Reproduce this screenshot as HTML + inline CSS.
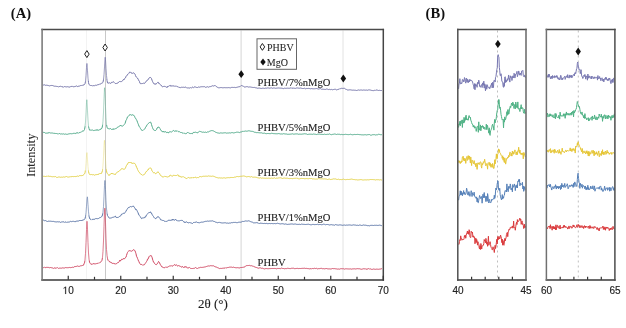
<!DOCTYPE html><html><head><meta charset="utf-8"><style>html,body{margin:0;padding:0;background:#fff;}svg{display:block;filter:blur(0.4px);}</style></head><body>
<svg width="626" height="328" viewBox="0 0 626 328">
<rect width="626" height="328" fill="#fff"/>
<g stroke-width="1" fill="none">
<line x1="86.5" y1="30.5" x2="86.5" y2="279" stroke="#f3f3f3"/>
<line x1="105.5" y1="30.5" x2="105.5" y2="279" stroke="#c8c8c8"/>
<line x1="241.1" y1="30.5" x2="241.1" y2="279" stroke="#d6d6d6"/>
<line x1="343" y1="30.5" x2="343" y2="279" stroke="#e2e2e2"/>
<line x1="497.5" y1="30.5" x2="497.5" y2="279" stroke="#b4b4b4" stroke-width="0.85" stroke-dasharray="2 3"/>
<line x1="578.3" y1="30.5" x2="578.3" y2="279" stroke="#b4b4b4" stroke-width="0.85" stroke-dasharray="2 3"/>
</g>
<defs>
<mask id="m_purple" maskUnits="userSpaceOnUse" x="0" y="0" width="626" height="328"><rect width="626" height="328" fill="#fff"/><g fill="#000"><rect x="84.40" y="0" width="5" height="80.69"/><rect x="102.70" y="0" width="5" height="78.94"/></g></mask>
<clipPath id="c_purple"><rect x="84.40" y="0" width="5" height="80.69"/><rect x="102.70" y="0" width="5" height="78.94"/></clipPath>
<mask id="m_green" maskUnits="userSpaceOnUse" x="0" y="0" width="626" height="328"><rect width="626" height="328" fill="#fff"/><g fill="#000"><rect x="84.30" y="0" width="5" height="126.17"/><rect x="102.10" y="0" width="5" height="124.70"/></g></mask>
<clipPath id="c_green"><rect x="84.30" y="0" width="5" height="126.17"/><rect x="102.10" y="0" width="5" height="124.70"/></clipPath>
<mask id="m_yellow" maskUnits="userSpaceOnUse" x="0" y="0" width="626" height="328"><rect width="626" height="328" fill="#fff"/><g fill="#000"><rect x="84.40" y="0" width="5" height="170.47"/><rect x="101.90" y="0" width="5" height="169.31"/></g></mask>
<clipPath id="c_yellow"><rect x="84.40" y="0" width="5" height="170.47"/><rect x="101.90" y="0" width="5" height="169.31"/></clipPath>
<mask id="m_blue" maskUnits="userSpaceOnUse" x="0" y="0" width="626" height="328"><rect width="626" height="328" fill="#fff"/><g fill="#000"><rect x="84.80" y="0" width="5" height="215.30"/><rect x="102.40" y="0" width="5" height="213.31"/></g></mask>
<clipPath id="c_blue"><rect x="84.80" y="0" width="5" height="215.30"/><rect x="102.40" y="0" width="5" height="213.31"/></clipPath>
<mask id="m_red" maskUnits="userSpaceOnUse" x="0" y="0" width="626" height="328"><rect width="626" height="328" fill="#fff"/><g fill="#000"><rect x="84.50" y="0" width="5" height="260.53"/><rect x="102.30" y="0" width="5" height="257.91"/></g></mask>
<clipPath id="c_red"><rect x="84.50" y="0" width="5" height="260.53"/><rect x="102.30" y="0" width="5" height="257.91"/></clipPath>
</defs>
<g fill="none" stroke-width="1.0" stroke-linejoin="round">
<path d="M43.00 85.25L43.50 85.01L44.00 84.98L44.50 84.80L45.00 85.26L45.50 85.30L46.00 85.25L46.50 85.21L47.00 85.40L47.50 85.33L48.00 85.07L48.50 85.65L49.00 85.78L49.50 85.90L50.00 85.56L50.50 85.58L51.00 85.73L51.50 85.41L52.00 85.99L52.50 85.52L53.00 85.59L53.50 85.88L54.00 86.32L54.50 86.21L55.00 86.09L55.50 86.22L56.00 86.50L56.50 86.39L57.00 86.32L57.50 86.51L58.00 86.72L58.50 87.04L59.00 86.37L59.50 86.52L60.00 86.51L60.50 86.27L61.00 86.53L61.50 86.58L62.00 87.15L62.50 86.80L63.00 86.59L63.50 87.23L64.00 86.99L64.50 86.49L65.00 86.92L65.50 86.75L66.00 86.63L66.50 86.88L67.00 86.42L67.50 86.71L68.00 86.96L68.50 86.93L69.00 86.97L69.50 87.04L70.00 87.18L70.50 86.63L71.00 87.05L71.50 86.33L72.00 86.68L72.50 86.33L73.00 86.84L73.50 86.78L74.00 86.55L74.50 86.71L75.00 86.09L75.50 86.38L76.00 86.31L76.50 85.94L77.00 86.39L77.50 86.61L78.00 85.92L78.50 86.27L79.00 85.81L79.50 86.05L80.00 85.75L80.50 85.59L81.00 85.63L81.50 85.44L82.00 84.93L82.50 85.39L83.00 84.79L83.50 85.04L84.00 85.10L84.50 84.40L85.00 83.74L85.50 81.32L86.00 75.39L86.50 67.32L86.90 63.45L87.00 64.18L87.50 70.76L88.00 78.17L88.50 82.45L89.00 84.54L89.50 84.93L90.00 85.22L90.50 85.48L91.00 85.18L91.50 85.50L92.00 86.10L92.50 85.88L93.00 85.39L93.50 85.65L94.00 85.57L94.50 85.68L95.00 85.38L95.50 85.22L96.00 85.06L96.50 85.31L97.00 85.17L97.50 84.81L98.00 84.74L98.50 84.62L99.00 84.65L99.50 84.05L100.00 84.06L100.50 84.02L101.00 83.70L101.50 83.18L102.00 83.52L102.50 82.70L103.00 82.09L103.50 79.71L104.00 74.72L104.50 66.95L105.00 58.65L105.20 57.26L105.50 59.77L106.00 68.38L106.50 75.52L107.00 80.43L107.50 82.92L108.00 82.99L108.50 83.01L109.00 83.45L109.50 82.76L110.00 82.81L110.50 83.41L111.00 83.28L111.50 82.33L112.00 82.11L112.50 82.29L113.00 81.83L113.50 81.74L114.00 82.20L114.50 82.90L115.00 83.41L115.50 83.54L116.00 83.85L116.50 83.44L117.00 83.44L117.50 83.30L118.00 82.36L118.50 82.39L119.00 82.07L119.50 81.48L120.00 81.32L120.50 81.62L121.00 81.54L121.50 81.57L122.00 81.29L122.50 80.91L123.00 80.13L123.50 79.33L124.00 79.87L124.50 78.62L125.00 78.13L125.50 77.90L126.00 76.40L126.50 75.81L127.00 75.68L127.50 74.42L128.00 74.23L128.50 73.73L129.00 73.37L129.50 72.13L130.00 72.15L130.50 72.33L131.00 72.80L131.50 72.68L132.00 73.75L132.50 73.29L133.00 72.76L133.50 72.93L134.00 73.08L134.50 73.50L135.00 74.11L135.50 75.63L136.00 76.85L136.50 77.12L137.00 77.54L137.50 78.00L138.00 79.08L138.50 79.82L139.00 80.94L139.50 81.61L140.00 83.35L140.50 83.60L141.00 83.73L141.50 83.60L142.00 83.54L142.50 83.53L143.00 83.30L143.50 83.19L144.00 83.45L144.50 83.45L145.00 82.77L145.50 82.05L146.00 81.87L146.50 80.83L147.00 80.21L147.50 80.27L148.00 79.30L148.50 79.18L149.00 78.17L149.50 77.56L150.00 77.78L150.50 77.46L151.00 77.75L151.50 78.58L152.00 80.15L152.50 81.36L153.00 82.38L153.50 83.32L154.00 83.45L154.50 84.30L155.00 83.52L155.50 84.22L156.00 84.34L156.50 83.47L157.00 83.23L157.50 82.61L158.00 81.94L158.50 82.44L159.00 83.87L159.50 83.66L160.00 84.38L160.50 84.78L161.00 85.48L161.50 85.54L162.00 86.28L162.50 86.97L163.00 86.91L163.50 86.44L164.00 86.63L164.50 86.35L165.00 86.17L165.50 86.71L166.00 87.20L166.50 87.03L167.00 87.63L167.50 86.25L168.00 86.76L168.50 86.15L169.00 85.90L169.50 85.65L170.00 85.76L170.50 85.42L171.00 86.44L171.50 85.73L172.00 85.83L172.50 85.93L173.00 85.66L173.50 85.95L174.00 85.84L174.50 86.37L175.00 85.75L175.50 86.29L176.00 86.38L176.50 86.05L177.00 86.60L177.50 86.66L178.00 86.96L178.50 86.96L179.00 87.55L179.50 87.43L180.00 87.69L180.50 87.63L181.00 87.49L181.50 87.24L182.00 87.54L182.50 87.30L183.00 87.32L183.50 87.22L184.00 87.48L184.50 87.40L185.00 86.96L185.50 87.06L186.00 87.29L186.50 87.83L187.00 88.31L187.50 87.95L188.00 88.10L188.50 87.90L189.00 87.89L189.50 88.04L190.00 88.10L190.50 87.57L191.00 88.28L191.50 87.96L192.00 87.44L192.50 87.07L193.00 87.48L193.50 87.79L194.00 87.19L194.50 86.86L195.00 87.22L195.50 87.02L196.00 87.07L196.50 87.41L197.00 87.05L197.50 87.55L198.00 87.09L198.50 86.98L199.00 87.11L199.50 87.20L200.00 87.08L200.50 86.86L201.00 87.12L201.50 86.74L202.00 87.03L202.50 86.72L203.00 86.66L203.50 86.73L204.00 86.65L204.50 86.65L205.00 87.00L205.50 87.31L206.00 87.06L206.50 87.09L207.00 87.00L207.50 86.72L208.00 86.99L208.50 87.19L209.00 86.92L209.50 86.70L210.00 86.88L210.50 86.58L211.00 86.65L211.50 86.26L212.00 86.22L212.50 85.74L213.00 86.10L213.50 86.02L214.00 85.95L214.50 85.62L215.00 85.96L215.50 85.71L216.00 86.33L216.50 86.63L217.00 86.89L217.50 87.33L218.00 87.40L218.50 87.76L219.00 87.84L219.50 87.78L220.00 87.51L220.50 87.60L221.00 87.66L221.50 87.58L222.00 87.72L222.50 87.78L223.00 87.66L223.50 87.74L224.00 87.85L224.50 87.63L225.00 87.90L225.50 87.73L226.00 87.90L226.50 87.71L227.00 87.89L227.50 87.72L228.00 87.98L228.50 87.62L229.00 87.86L229.50 87.73L230.00 87.88L230.50 87.85L231.00 87.65L231.50 87.41L232.00 87.42L232.50 87.39L233.00 87.27L233.50 87.44L234.00 87.37L234.50 87.37L235.00 87.62L235.50 87.60L236.00 87.44L236.50 87.38L237.00 87.30L237.50 87.13L238.00 86.87L238.50 86.85L239.00 86.80L239.50 86.69L240.00 86.59L240.50 86.03L241.00 85.83L241.50 85.51L242.00 85.75L242.50 85.92L243.00 86.31L243.50 86.24L244.00 86.79L244.50 87.04L245.00 87.25L245.50 86.95L246.00 86.84L246.50 86.68L247.00 86.83L247.50 86.71L248.00 86.90L248.50 87.09L249.00 86.97L249.50 86.95L250.00 86.83L250.50 87.02L251.00 86.97L251.50 87.22L252.00 87.39L252.50 87.40L253.00 87.30L253.50 87.47L254.00 87.50L254.50 87.41L255.00 87.61L255.50 87.77L256.00 87.99L256.50 87.92L257.00 88.29L257.50 88.25L258.00 88.03L258.50 88.14L259.00 88.11L259.50 88.12L260.00 87.94L260.50 88.33L261.00 88.49L261.50 88.43L262.00 88.46L262.50 88.21L263.00 88.33L263.50 88.22L264.00 88.07L264.50 88.39L265.00 88.22L265.50 88.14L266.00 88.14L266.50 88.19L267.00 87.99L267.50 87.94L268.00 88.17L268.50 87.98L269.00 87.97L269.50 88.19L270.00 88.02L270.50 88.01L271.00 88.06L271.50 87.87L272.00 87.98L272.50 88.27L273.00 87.98L273.50 88.01L274.00 87.93L274.50 88.02L275.00 88.33L275.50 88.27L276.00 88.15L276.50 88.16L277.00 88.18L277.50 88.05L278.00 87.96L278.50 87.98L279.00 88.08L279.50 88.05L280.00 88.11L280.50 88.14L281.00 87.94L281.50 88.18L282.00 88.06L282.50 88.33L283.00 88.45L283.50 88.61L284.00 88.38L284.50 88.16L285.00 88.40L285.50 88.32L286.00 87.92L286.50 88.27L287.00 88.37L287.50 88.16L288.00 88.53L288.50 88.24L289.00 87.99L289.50 88.24L290.00 88.17L290.50 87.98L291.00 88.18L291.50 87.92L292.00 88.51L292.50 88.12L293.00 88.23L293.50 88.13L294.00 88.29L294.50 88.26L295.00 88.08L295.50 88.37L296.00 88.15L296.50 88.02L297.00 88.10L297.50 87.98L298.00 87.82L298.50 88.13L299.00 88.07L299.50 88.21L300.00 88.10L300.50 88.03L301.00 88.04L301.50 88.27L302.00 88.47L302.50 88.50L303.00 88.37L303.50 88.51L304.00 88.19L304.50 88.23L305.00 88.45L305.50 88.77L306.00 88.61L306.50 88.44L307.00 88.54L307.50 88.50L308.00 88.49L308.50 88.40L309.00 88.30L309.50 88.54L310.00 88.58L310.50 88.81L311.00 88.88L311.50 88.59L312.00 88.63L312.50 88.74L313.00 88.76L313.50 88.80L314.00 88.84L314.50 88.79L315.00 88.87L315.50 88.67L316.00 88.63L316.50 88.54L317.00 88.75L317.50 88.79L318.00 88.75L318.50 89.07L319.00 88.97L319.50 88.81L320.00 88.72L320.50 88.61L321.00 88.73L321.50 89.32L322.00 88.91L322.50 89.21L323.00 89.29L323.50 89.29L324.00 89.15L324.50 89.36L325.00 89.21L325.50 89.42L326.00 89.35L326.50 89.04L327.00 89.05L327.50 89.17L328.00 89.38L328.50 89.56L329.00 89.58L329.50 89.34L330.00 89.36L330.50 89.63L331.00 89.56L331.50 89.41L332.00 89.69L332.50 89.78L333.00 89.87L333.50 89.53L334.00 89.67L334.50 89.31L335.00 89.35L335.50 89.29L336.00 89.72L336.50 89.89L337.00 89.65L337.50 89.58L338.00 89.68L338.50 89.29L339.00 89.37L339.50 88.81L340.00 88.98L340.50 88.66L341.00 88.41L341.50 88.31L342.00 88.65L342.50 88.42L343.00 88.28L343.50 88.33L344.00 87.97L344.50 88.32L345.00 88.63L345.50 89.10L346.00 89.20L346.50 89.40L347.00 89.90L347.50 89.99L348.00 89.81L348.50 89.99L349.00 90.01L349.50 89.84L350.00 89.70L350.50 89.85L351.00 89.86L351.50 90.04L352.00 90.15L352.50 90.18L353.00 90.14L353.50 90.14L354.00 90.30L354.50 90.21L355.00 90.05L355.50 90.24L356.00 90.22L356.50 90.48L357.00 90.21L357.50 90.26L358.00 90.00L358.50 89.96L359.00 89.82L359.50 90.18L360.00 90.14L360.50 90.03L361.00 89.97L361.50 90.01L362.00 90.14L362.50 90.21L363.00 89.96L363.50 90.02L364.00 90.08L364.50 90.08L365.00 89.99L365.50 90.17L366.00 90.22L366.50 90.06L367.00 90.28L367.50 90.28L368.00 90.16L368.50 89.92L369.00 90.20L369.50 89.92L370.00 89.81L370.50 90.10L371.00 90.02L371.50 90.38L372.00 90.16L372.50 90.56L373.00 90.44L373.50 90.64L374.00 90.42L374.50 90.31L375.00 90.16L375.50 90.33L376.00 89.79L376.50 90.08L377.00 90.17L377.50 90.19L378.00 90.06L378.50 90.48L379.00 90.11L379.50 90.30L380.00 90.19L380.50 90.50L381.00 90.12L381.50 90.50L382.00 90.10" stroke="#7373a8" mask="url(#m_purple)"/>
<path d="M43.00 85.25L43.50 85.01L44.00 84.98L44.50 84.80L45.00 85.26L45.50 85.30L46.00 85.25L46.50 85.21L47.00 85.40L47.50 85.33L48.00 85.07L48.50 85.65L49.00 85.78L49.50 85.90L50.00 85.56L50.50 85.58L51.00 85.73L51.50 85.41L52.00 85.99L52.50 85.52L53.00 85.59L53.50 85.88L54.00 86.32L54.50 86.21L55.00 86.09L55.50 86.22L56.00 86.50L56.50 86.39L57.00 86.32L57.50 86.51L58.00 86.72L58.50 87.04L59.00 86.37L59.50 86.52L60.00 86.51L60.50 86.27L61.00 86.53L61.50 86.58L62.00 87.15L62.50 86.80L63.00 86.59L63.50 87.23L64.00 86.99L64.50 86.49L65.00 86.92L65.50 86.75L66.00 86.63L66.50 86.88L67.00 86.42L67.50 86.71L68.00 86.96L68.50 86.93L69.00 86.97L69.50 87.04L70.00 87.18L70.50 86.63L71.00 87.05L71.50 86.33L72.00 86.68L72.50 86.33L73.00 86.84L73.50 86.78L74.00 86.55L74.50 86.71L75.00 86.09L75.50 86.38L76.00 86.31L76.50 85.94L77.00 86.39L77.50 86.61L78.00 85.92L78.50 86.27L79.00 85.81L79.50 86.05L80.00 85.75L80.50 85.59L81.00 85.63L81.50 85.44L82.00 84.93L82.50 85.39L83.00 84.79L83.50 85.04L84.00 85.10L84.50 84.40L85.00 83.74L85.50 81.32L86.00 75.39L86.50 67.32L86.90 63.45L87.00 64.18L87.50 70.76L88.00 78.17L88.50 82.45L89.00 84.54L89.50 84.93L90.00 85.22L90.50 85.48L91.00 85.18L91.50 85.50L92.00 86.10L92.50 85.88L93.00 85.39L93.50 85.65L94.00 85.57L94.50 85.68L95.00 85.38L95.50 85.22L96.00 85.06L96.50 85.31L97.00 85.17L97.50 84.81L98.00 84.74L98.50 84.62L99.00 84.65L99.50 84.05L100.00 84.06L100.50 84.02L101.00 83.70L101.50 83.18L102.00 83.52L102.50 82.70L103.00 82.09L103.50 79.71L104.00 74.72L104.50 66.95L105.00 58.65L105.20 57.26L105.50 59.77L106.00 68.38L106.50 75.52L107.00 80.43L107.50 82.92L108.00 82.99L108.50 83.01L109.00 83.45L109.50 82.76L110.00 82.81L110.50 83.41L111.00 83.28L111.50 82.33L112.00 82.11L112.50 82.29L113.00 81.83L113.50 81.74L114.00 82.20L114.50 82.90L115.00 83.41L115.50 83.54L116.00 83.85L116.50 83.44L117.00 83.44L117.50 83.30L118.00 82.36L118.50 82.39L119.00 82.07L119.50 81.48L120.00 81.32L120.50 81.62L121.00 81.54L121.50 81.57L122.00 81.29L122.50 80.91L123.00 80.13L123.50 79.33L124.00 79.87L124.50 78.62L125.00 78.13L125.50 77.90L126.00 76.40L126.50 75.81L127.00 75.68L127.50 74.42L128.00 74.23L128.50 73.73L129.00 73.37L129.50 72.13L130.00 72.15L130.50 72.33L131.00 72.80L131.50 72.68L132.00 73.75L132.50 73.29L133.00 72.76L133.50 72.93L134.00 73.08L134.50 73.50L135.00 74.11L135.50 75.63L136.00 76.85L136.50 77.12L137.00 77.54L137.50 78.00L138.00 79.08L138.50 79.82L139.00 80.94L139.50 81.61L140.00 83.35L140.50 83.60L141.00 83.73L141.50 83.60L142.00 83.54L142.50 83.53L143.00 83.30L143.50 83.19L144.00 83.45L144.50 83.45L145.00 82.77L145.50 82.05L146.00 81.87L146.50 80.83L147.00 80.21L147.50 80.27L148.00 79.30L148.50 79.18L149.00 78.17L149.50 77.56L150.00 77.78L150.50 77.46L151.00 77.75L151.50 78.58L152.00 80.15L152.50 81.36L153.00 82.38L153.50 83.32L154.00 83.45L154.50 84.30L155.00 83.52L155.50 84.22L156.00 84.34L156.50 83.47L157.00 83.23L157.50 82.61L158.00 81.94L158.50 82.44L159.00 83.87L159.50 83.66L160.00 84.38L160.50 84.78L161.00 85.48L161.50 85.54L162.00 86.28L162.50 86.97L163.00 86.91L163.50 86.44L164.00 86.63L164.50 86.35L165.00 86.17L165.50 86.71L166.00 87.20L166.50 87.03L167.00 87.63L167.50 86.25L168.00 86.76L168.50 86.15L169.00 85.90L169.50 85.65L170.00 85.76L170.50 85.42L171.00 86.44L171.50 85.73L172.00 85.83L172.50 85.93L173.00 85.66L173.50 85.95L174.00 85.84L174.50 86.37L175.00 85.75L175.50 86.29L176.00 86.38L176.50 86.05L177.00 86.60L177.50 86.66L178.00 86.96L178.50 86.96L179.00 87.55L179.50 87.43L180.00 87.69L180.50 87.63L181.00 87.49L181.50 87.24L182.00 87.54L182.50 87.30L183.00 87.32L183.50 87.22L184.00 87.48L184.50 87.40L185.00 86.96L185.50 87.06L186.00 87.29L186.50 87.83L187.00 88.31L187.50 87.95L188.00 88.10L188.50 87.90L189.00 87.89L189.50 88.04L190.00 88.10L190.50 87.57L191.00 88.28L191.50 87.96L192.00 87.44L192.50 87.07L193.00 87.48L193.50 87.79L194.00 87.19L194.50 86.86L195.00 87.22L195.50 87.02L196.00 87.07L196.50 87.41L197.00 87.05L197.50 87.55L198.00 87.09L198.50 86.98L199.00 87.11L199.50 87.20L200.00 87.08L200.50 86.86L201.00 87.12L201.50 86.74L202.00 87.03L202.50 86.72L203.00 86.66L203.50 86.73L204.00 86.65L204.50 86.65L205.00 87.00L205.50 87.31L206.00 87.06L206.50 87.09L207.00 87.00L207.50 86.72L208.00 86.99L208.50 87.19L209.00 86.92L209.50 86.70L210.00 86.88L210.50 86.58L211.00 86.65L211.50 86.26L212.00 86.22L212.50 85.74L213.00 86.10L213.50 86.02L214.00 85.95L214.50 85.62L215.00 85.96L215.50 85.71L216.00 86.33L216.50 86.63L217.00 86.89L217.50 87.33L218.00 87.40L218.50 87.76L219.00 87.84L219.50 87.78L220.00 87.51L220.50 87.60L221.00 87.66L221.50 87.58L222.00 87.72L222.50 87.78L223.00 87.66L223.50 87.74L224.00 87.85L224.50 87.63L225.00 87.90L225.50 87.73L226.00 87.90L226.50 87.71L227.00 87.89L227.50 87.72L228.00 87.98L228.50 87.62L229.00 87.86L229.50 87.73L230.00 87.88L230.50 87.85L231.00 87.65L231.50 87.41L232.00 87.42L232.50 87.39L233.00 87.27L233.50 87.44L234.00 87.37L234.50 87.37L235.00 87.62L235.50 87.60L236.00 87.44L236.50 87.38L237.00 87.30L237.50 87.13L238.00 86.87L238.50 86.85L239.00 86.80L239.50 86.69L240.00 86.59L240.50 86.03L241.00 85.83L241.50 85.51L242.00 85.75L242.50 85.92L243.00 86.31L243.50 86.24L244.00 86.79L244.50 87.04L245.00 87.25L245.50 86.95L246.00 86.84L246.50 86.68L247.00 86.83L247.50 86.71L248.00 86.90L248.50 87.09L249.00 86.97L249.50 86.95L250.00 86.83L250.50 87.02L251.00 86.97L251.50 87.22L252.00 87.39L252.50 87.40L253.00 87.30L253.50 87.47L254.00 87.50L254.50 87.41L255.00 87.61L255.50 87.77L256.00 87.99L256.50 87.92L257.00 88.29L257.50 88.25L258.00 88.03L258.50 88.14L259.00 88.11L259.50 88.12L260.00 87.94L260.50 88.33L261.00 88.49L261.50 88.43L262.00 88.46L262.50 88.21L263.00 88.33L263.50 88.22L264.00 88.07L264.50 88.39L265.00 88.22L265.50 88.14L266.00 88.14L266.50 88.19L267.00 87.99L267.50 87.94L268.00 88.17L268.50 87.98L269.00 87.97L269.50 88.19L270.00 88.02L270.50 88.01L271.00 88.06L271.50 87.87L272.00 87.98L272.50 88.27L273.00 87.98L273.50 88.01L274.00 87.93L274.50 88.02L275.00 88.33L275.50 88.27L276.00 88.15L276.50 88.16L277.00 88.18L277.50 88.05L278.00 87.96L278.50 87.98L279.00 88.08L279.50 88.05L280.00 88.11L280.50 88.14L281.00 87.94L281.50 88.18L282.00 88.06L282.50 88.33L283.00 88.45L283.50 88.61L284.00 88.38L284.50 88.16L285.00 88.40L285.50 88.32L286.00 87.92L286.50 88.27L287.00 88.37L287.50 88.16L288.00 88.53L288.50 88.24L289.00 87.99L289.50 88.24L290.00 88.17L290.50 87.98L291.00 88.18L291.50 87.92L292.00 88.51L292.50 88.12L293.00 88.23L293.50 88.13L294.00 88.29L294.50 88.26L295.00 88.08L295.50 88.37L296.00 88.15L296.50 88.02L297.00 88.10L297.50 87.98L298.00 87.82L298.50 88.13L299.00 88.07L299.50 88.21L300.00 88.10L300.50 88.03L301.00 88.04L301.50 88.27L302.00 88.47L302.50 88.50L303.00 88.37L303.50 88.51L304.00 88.19L304.50 88.23L305.00 88.45L305.50 88.77L306.00 88.61L306.50 88.44L307.00 88.54L307.50 88.50L308.00 88.49L308.50 88.40L309.00 88.30L309.50 88.54L310.00 88.58L310.50 88.81L311.00 88.88L311.50 88.59L312.00 88.63L312.50 88.74L313.00 88.76L313.50 88.80L314.00 88.84L314.50 88.79L315.00 88.87L315.50 88.67L316.00 88.63L316.50 88.54L317.00 88.75L317.50 88.79L318.00 88.75L318.50 89.07L319.00 88.97L319.50 88.81L320.00 88.72L320.50 88.61L321.00 88.73L321.50 89.32L322.00 88.91L322.50 89.21L323.00 89.29L323.50 89.29L324.00 89.15L324.50 89.36L325.00 89.21L325.50 89.42L326.00 89.35L326.50 89.04L327.00 89.05L327.50 89.17L328.00 89.38L328.50 89.56L329.00 89.58L329.50 89.34L330.00 89.36L330.50 89.63L331.00 89.56L331.50 89.41L332.00 89.69L332.50 89.78L333.00 89.87L333.50 89.53L334.00 89.67L334.50 89.31L335.00 89.35L335.50 89.29L336.00 89.72L336.50 89.89L337.00 89.65L337.50 89.58L338.00 89.68L338.50 89.29L339.00 89.37L339.50 88.81L340.00 88.98L340.50 88.66L341.00 88.41L341.50 88.31L342.00 88.65L342.50 88.42L343.00 88.28L343.50 88.33L344.00 87.97L344.50 88.32L345.00 88.63L345.50 89.10L346.00 89.20L346.50 89.40L347.00 89.90L347.50 89.99L348.00 89.81L348.50 89.99L349.00 90.01L349.50 89.84L350.00 89.70L350.50 89.85L351.00 89.86L351.50 90.04L352.00 90.15L352.50 90.18L353.00 90.14L353.50 90.14L354.00 90.30L354.50 90.21L355.00 90.05L355.50 90.24L356.00 90.22L356.50 90.48L357.00 90.21L357.50 90.26L358.00 90.00L358.50 89.96L359.00 89.82L359.50 90.18L360.00 90.14L360.50 90.03L361.00 89.97L361.50 90.01L362.00 90.14L362.50 90.21L363.00 89.96L363.50 90.02L364.00 90.08L364.50 90.08L365.00 89.99L365.50 90.17L366.00 90.22L366.50 90.06L367.00 90.28L367.50 90.28L368.00 90.16L368.50 89.92L369.00 90.20L369.50 89.92L370.00 89.81L370.50 90.10L371.00 90.02L371.50 90.38L372.00 90.16L372.50 90.56L373.00 90.44L373.50 90.64L374.00 90.42L374.50 90.31L375.00 90.16L375.50 90.33L376.00 89.79L376.50 90.08L377.00 90.17L377.50 90.19L378.00 90.06L378.50 90.48L379.00 90.11L379.50 90.30L380.00 90.19L380.50 90.50L381.00 90.12L381.50 90.50L382.00 90.10" stroke="#7373a8" clip-path="url(#c_purple)" opacity="0.70"/>
<path d="M43.00 132.57L43.50 132.38L44.00 132.45L44.50 132.50L45.00 132.80L45.50 133.15L46.00 132.94L46.50 133.12L47.00 132.89L47.50 133.27L48.00 132.40L48.50 132.88L49.00 133.07L49.50 132.63L50.00 133.12L50.50 133.00L51.00 132.67L51.50 132.99L52.00 132.79L52.50 133.04L53.00 133.25L53.50 133.13L54.00 133.74L54.50 133.33L55.00 133.54L55.50 133.48L56.00 133.70L56.50 133.50L57.00 133.70L57.50 133.79L58.00 133.82L58.50 134.04L59.00 133.46L59.50 133.54L60.00 133.78L60.50 134.02L61.00 133.85L61.50 133.88L62.00 133.81L62.50 134.06L63.00 134.04L63.50 133.87L64.00 133.99L64.50 134.24L65.00 134.08L65.50 134.01L66.00 134.32L66.50 134.27L67.00 134.33L67.50 134.27L68.00 133.96L68.50 133.94L69.00 133.92L69.50 133.76L70.00 133.28L70.50 133.64L71.00 133.61L71.50 133.78L72.00 133.73L72.50 133.78L73.00 133.20L73.50 133.34L74.00 132.94L74.50 133.32L75.00 133.53L75.50 133.60L76.00 132.75L76.50 132.99L77.00 133.18L77.50 132.85L78.00 132.52L78.50 133.31L79.00 132.79L79.50 132.57L80.00 132.79L80.50 132.18L81.00 132.03L81.50 132.01L82.00 131.40L82.50 131.05L83.00 131.27L83.50 130.88L84.00 130.58L84.50 129.52L85.00 126.96L85.50 122.14L86.00 113.02L86.50 102.39L86.80 99.70L87.00 101.14L87.50 110.79L88.00 120.03L88.50 126.26L89.00 128.43L89.50 130.13L90.00 129.82L90.50 130.10L91.00 130.45L91.50 130.14L92.00 129.90L92.50 130.03L93.00 130.47L93.50 130.56L94.00 130.51L94.50 130.39L95.00 130.02L95.50 130.18L96.00 130.15L96.50 129.72L97.00 130.55L97.50 129.68L98.00 130.05L98.50 130.25L99.00 129.89L99.50 129.74L100.00 129.64L100.50 129.53L101.00 128.46L101.50 128.78L102.00 127.89L102.50 125.85L103.00 121.25L103.50 112.05L104.00 98.78L104.50 87.81L104.60 87.73L105.00 92.78L105.50 106.61L106.00 117.67L106.50 124.37L107.00 127.19L107.50 128.33L108.00 128.44L108.50 128.67L109.00 129.10L109.50 128.86L110.00 128.47L110.50 128.59L111.00 128.81L111.50 129.46L112.00 129.42L112.50 128.98L113.00 129.73L113.50 128.92L114.00 128.54L114.50 129.10L115.00 129.23L115.50 128.59L116.00 128.31L116.50 128.35L117.00 127.50L117.50 127.28L118.00 127.19L118.50 126.77L119.00 126.50L119.50 126.14L120.00 126.00L120.50 125.23L121.00 126.12L121.50 125.82L122.00 126.25L122.50 126.08L123.00 125.77L123.50 125.35L124.00 124.87L124.50 124.30L125.00 123.53L125.50 122.00L126.00 120.34L126.50 119.63L127.00 118.27L127.50 116.84L128.00 116.38L128.50 116.04L129.00 115.82L129.50 115.34L130.00 114.28L130.50 114.69L131.00 115.23L131.50 115.11L132.00 114.81L132.50 114.64L133.00 115.48L133.50 115.07L134.00 115.62L134.50 116.25L135.00 117.52L135.50 118.12L136.00 119.12L136.50 119.78L137.00 120.81L137.50 122.26L138.00 123.54L138.50 124.76L139.00 126.18L139.50 126.92L140.00 127.37L140.50 128.60L141.00 129.14L141.50 130.19L142.00 130.39L142.50 130.45L143.00 130.33L143.50 130.03L144.00 129.50L144.50 129.14L145.00 128.54L145.50 127.30L146.00 126.90L146.50 125.92L147.00 124.95L147.50 124.35L148.00 123.66L148.50 123.34L149.00 122.89L149.50 122.49L150.00 122.16L150.50 122.00L151.00 122.92L151.50 124.46L152.00 126.17L152.50 127.58L153.00 128.85L153.50 129.77L154.00 130.04L154.50 130.38L155.00 130.56L155.50 130.48L156.00 130.21L156.50 129.64L157.00 128.04L157.50 127.95L158.00 126.96L158.50 127.16L159.00 127.19L159.50 127.91L160.00 128.38L160.50 129.77L161.00 130.10L161.50 131.05L162.00 131.68L162.50 131.49L163.00 132.16L163.50 131.34L164.00 132.16L164.50 131.89L165.00 131.83L165.50 131.69L166.00 131.76L166.50 132.62L167.00 132.50L167.50 132.25L168.00 132.99L168.50 132.88L169.00 131.99L169.50 131.86L170.00 132.13L170.50 131.78L171.00 131.66L171.50 132.00L172.00 131.60L172.50 131.22L173.00 130.93L173.50 130.45L174.00 130.71L174.50 131.41L175.00 130.62L175.50 131.04L176.00 130.87L176.50 130.99L177.00 131.42L177.50 130.80L178.00 131.44L178.50 131.68L179.00 131.81L179.50 131.71L180.00 132.06L180.50 132.44L181.00 132.62L181.50 132.52L182.00 132.69L182.50 133.08L183.00 132.71L183.50 133.21L184.00 132.98L184.50 133.28L185.00 133.67L185.50 133.66L186.00 133.26L186.50 133.56L187.00 132.83L187.50 132.24L188.00 132.87L188.50 132.76L189.00 133.25L189.50 133.32L190.00 133.79L190.50 133.56L191.00 133.52L191.50 133.48L192.00 133.70L192.50 133.70L193.00 132.62L193.50 132.36L194.00 132.94L194.50 132.32L195.00 132.19L195.50 132.18L196.00 132.64L196.50 132.55L197.00 132.65L197.50 132.75L198.00 132.63L198.50 132.01L199.00 131.82L199.50 131.19L200.00 131.68L200.50 131.56L201.00 131.64L201.50 131.90L202.00 132.13L202.50 132.24L203.00 132.10L203.50 132.10L204.00 132.38L204.50 132.36L205.00 132.37L205.50 132.14L206.00 131.97L206.50 132.51L207.00 132.06L207.50 131.92L208.00 131.79L208.50 131.91L209.00 131.45L209.50 131.30L210.00 131.14L210.50 130.92L211.00 131.06L211.50 130.61L212.00 130.71L212.50 130.65L213.00 130.79L213.50 130.94L214.00 131.32L214.50 131.51L215.00 131.82L215.50 132.15L216.00 132.33L216.50 132.55L217.00 132.77L217.50 132.88L218.00 133.00L218.50 133.06L219.00 132.93L219.50 133.21L220.00 133.02L220.50 132.92L221.00 133.24L221.50 132.97L222.00 133.05L222.50 133.07L223.00 133.14L223.50 132.93L224.00 132.93L224.50 132.82L225.00 132.90L225.50 132.79L226.00 132.83L226.50 133.11L227.00 132.92L227.50 133.02L228.00 132.89L228.50 133.02L229.00 132.84L229.50 132.85L230.00 132.85L230.50 133.03L231.00 132.88L231.50 132.67L232.00 132.82L232.50 132.63L233.00 132.98L233.50 132.93L234.00 132.72L234.50 132.78L235.00 132.54L235.50 132.53L236.00 132.41L236.50 132.19L237.00 132.33L237.50 132.16L238.00 132.41L238.50 132.26L239.00 132.34L239.50 132.58L240.00 132.56L240.50 132.08L241.00 131.93L241.50 131.89L242.00 131.65L242.50 131.39L243.00 131.76L243.50 131.25L244.00 131.47L244.50 131.26L245.00 131.34L245.50 131.01L246.00 131.15L246.50 131.20L247.00 131.18L247.50 131.08L248.00 130.94L248.50 130.80L249.00 130.94L249.50 130.87L250.00 130.86L250.50 131.16L251.00 130.87L251.50 131.31L252.00 131.23L252.50 131.37L253.00 131.56L253.50 131.71L254.00 131.99L254.50 132.22L255.00 132.17L255.50 132.33L256.00 132.44L256.50 132.64L257.00 132.91L257.50 132.60L258.00 132.73L258.50 132.68L259.00 132.57L259.50 132.79L260.00 132.79L260.50 132.83L261.00 132.64L261.50 132.81L262.00 133.10L262.50 133.23L263.00 133.10L263.50 133.25L264.00 133.16L264.50 133.11L265.00 133.11L265.50 133.57L266.00 133.33L266.50 133.66L267.00 133.72L267.50 133.49L268.00 133.53L268.50 133.54L269.00 133.50L269.50 133.63L270.00 133.59L270.50 133.64L271.00 133.57L271.50 133.26L272.00 133.29L272.50 133.41L273.00 133.55L273.50 133.62L274.00 133.90L274.50 133.67L275.00 133.66L275.50 133.74L276.00 133.47L276.50 133.76L277.00 133.71L277.50 133.76L278.00 133.50L278.50 133.58L279.00 133.67L279.50 133.72L280.00 133.65L280.50 133.99L281.00 133.94L281.50 133.95L282.00 133.74L282.50 134.02L283.00 133.67L283.50 133.68L284.00 133.91L284.50 133.87L285.00 133.57L285.50 133.99L286.00 134.02L286.50 134.01L287.00 133.93L287.50 134.27L288.00 134.37L288.50 134.26L289.00 134.38L289.50 134.22L290.00 134.14L290.50 134.14L291.00 133.78L291.50 134.02L292.00 133.75L292.50 133.82L293.00 133.94L293.50 134.15L294.00 134.14L294.50 134.09L295.00 134.07L295.50 133.95L296.00 133.72L296.50 133.93L297.00 134.04L297.50 133.95L298.00 134.08L298.50 134.25L299.00 134.33L299.50 134.14L300.00 134.34L300.50 134.16L301.00 134.15L301.50 134.20L302.00 133.96L302.50 134.06L303.00 133.93L303.50 133.93L304.00 133.97L304.50 133.78L305.00 134.09L305.50 133.86L306.00 134.10L306.50 133.99L307.00 134.18L307.50 134.48L308.00 134.12L308.50 134.29L309.00 134.23L309.50 134.18L310.00 134.11L310.50 134.19L311.00 134.25L311.50 134.21L312.00 134.27L312.50 134.34L313.00 134.28L313.50 134.00L314.00 134.26L314.50 134.16L315.00 134.38L315.50 134.27L316.00 134.20L316.50 134.54L317.00 134.33L317.50 134.23L318.00 134.38L318.50 134.13L319.00 134.38L319.50 134.08L320.00 134.30L320.50 134.28L321.00 134.03L321.50 134.35L322.00 134.32L322.50 134.41L323.00 134.39L323.50 134.44L324.00 134.12L324.50 134.18L325.00 134.55L325.50 134.44L326.00 134.54L326.50 134.43L327.00 134.44L327.50 134.28L328.00 134.28L328.50 134.32L329.00 134.39L329.50 133.92L330.00 134.13L330.50 134.43L331.00 134.47L331.50 134.69L332.00 134.51L332.50 134.39L333.00 134.50L333.50 134.24L334.00 133.89L334.50 134.02L335.00 134.22L335.50 134.15L336.00 134.46L336.50 134.48L337.00 134.31L337.50 134.19L338.00 134.48L338.50 134.28L339.00 134.27L339.50 134.28L340.00 134.36L340.50 134.62L341.00 134.76L341.50 134.40L342.00 134.24L342.50 134.60L343.00 134.59L343.50 134.62L344.00 134.38L344.50 134.48L345.00 134.28L345.50 134.30L346.00 134.39L346.50 134.45L347.00 134.58L347.50 134.57L348.00 134.31L348.50 134.65L349.00 134.35L349.50 134.54L350.00 134.74L350.50 134.25L351.00 134.40L351.50 134.58L352.00 134.63L352.50 134.77L353.00 134.81L353.50 134.62L354.00 134.70L354.50 134.43L355.00 134.73L355.50 134.56L356.00 134.69L356.50 134.49L357.00 134.70L357.50 134.38L358.00 134.55L358.50 134.47L359.00 134.63L359.50 134.64L360.00 134.58L360.50 134.67L361.00 134.75L361.50 134.82L362.00 134.85L362.50 134.84L363.00 134.98L363.50 134.88L364.00 134.68L364.50 134.76L365.00 134.67L365.50 134.72L366.00 134.53L366.50 134.96L367.00 134.72L367.50 134.73L368.00 134.89L368.50 134.62L369.00 134.58L369.50 134.57L370.00 134.76L370.50 135.13L371.00 134.85L371.50 135.12L372.00 134.92L372.50 134.72L373.00 134.48L373.50 134.70L374.00 134.76L374.50 134.67L375.00 134.74L375.50 135.00L376.00 135.01L376.50 134.81L377.00 134.87L377.50 134.79L378.00 134.52L378.50 134.28L379.00 134.36L379.50 134.42L380.00 134.67L380.50 134.70L381.00 134.56L381.50 134.70L382.00 134.76" stroke="#4fa888" mask="url(#m_green)"/>
<path d="M43.00 132.57L43.50 132.38L44.00 132.45L44.50 132.50L45.00 132.80L45.50 133.15L46.00 132.94L46.50 133.12L47.00 132.89L47.50 133.27L48.00 132.40L48.50 132.88L49.00 133.07L49.50 132.63L50.00 133.12L50.50 133.00L51.00 132.67L51.50 132.99L52.00 132.79L52.50 133.04L53.00 133.25L53.50 133.13L54.00 133.74L54.50 133.33L55.00 133.54L55.50 133.48L56.00 133.70L56.50 133.50L57.00 133.70L57.50 133.79L58.00 133.82L58.50 134.04L59.00 133.46L59.50 133.54L60.00 133.78L60.50 134.02L61.00 133.85L61.50 133.88L62.00 133.81L62.50 134.06L63.00 134.04L63.50 133.87L64.00 133.99L64.50 134.24L65.00 134.08L65.50 134.01L66.00 134.32L66.50 134.27L67.00 134.33L67.50 134.27L68.00 133.96L68.50 133.94L69.00 133.92L69.50 133.76L70.00 133.28L70.50 133.64L71.00 133.61L71.50 133.78L72.00 133.73L72.50 133.78L73.00 133.20L73.50 133.34L74.00 132.94L74.50 133.32L75.00 133.53L75.50 133.60L76.00 132.75L76.50 132.99L77.00 133.18L77.50 132.85L78.00 132.52L78.50 133.31L79.00 132.79L79.50 132.57L80.00 132.79L80.50 132.18L81.00 132.03L81.50 132.01L82.00 131.40L82.50 131.05L83.00 131.27L83.50 130.88L84.00 130.58L84.50 129.52L85.00 126.96L85.50 122.14L86.00 113.02L86.50 102.39L86.80 99.70L87.00 101.14L87.50 110.79L88.00 120.03L88.50 126.26L89.00 128.43L89.50 130.13L90.00 129.82L90.50 130.10L91.00 130.45L91.50 130.14L92.00 129.90L92.50 130.03L93.00 130.47L93.50 130.56L94.00 130.51L94.50 130.39L95.00 130.02L95.50 130.18L96.00 130.15L96.50 129.72L97.00 130.55L97.50 129.68L98.00 130.05L98.50 130.25L99.00 129.89L99.50 129.74L100.00 129.64L100.50 129.53L101.00 128.46L101.50 128.78L102.00 127.89L102.50 125.85L103.00 121.25L103.50 112.05L104.00 98.78L104.50 87.81L104.60 87.73L105.00 92.78L105.50 106.61L106.00 117.67L106.50 124.37L107.00 127.19L107.50 128.33L108.00 128.44L108.50 128.67L109.00 129.10L109.50 128.86L110.00 128.47L110.50 128.59L111.00 128.81L111.50 129.46L112.00 129.42L112.50 128.98L113.00 129.73L113.50 128.92L114.00 128.54L114.50 129.10L115.00 129.23L115.50 128.59L116.00 128.31L116.50 128.35L117.00 127.50L117.50 127.28L118.00 127.19L118.50 126.77L119.00 126.50L119.50 126.14L120.00 126.00L120.50 125.23L121.00 126.12L121.50 125.82L122.00 126.25L122.50 126.08L123.00 125.77L123.50 125.35L124.00 124.87L124.50 124.30L125.00 123.53L125.50 122.00L126.00 120.34L126.50 119.63L127.00 118.27L127.50 116.84L128.00 116.38L128.50 116.04L129.00 115.82L129.50 115.34L130.00 114.28L130.50 114.69L131.00 115.23L131.50 115.11L132.00 114.81L132.50 114.64L133.00 115.48L133.50 115.07L134.00 115.62L134.50 116.25L135.00 117.52L135.50 118.12L136.00 119.12L136.50 119.78L137.00 120.81L137.50 122.26L138.00 123.54L138.50 124.76L139.00 126.18L139.50 126.92L140.00 127.37L140.50 128.60L141.00 129.14L141.50 130.19L142.00 130.39L142.50 130.45L143.00 130.33L143.50 130.03L144.00 129.50L144.50 129.14L145.00 128.54L145.50 127.30L146.00 126.90L146.50 125.92L147.00 124.95L147.50 124.35L148.00 123.66L148.50 123.34L149.00 122.89L149.50 122.49L150.00 122.16L150.50 122.00L151.00 122.92L151.50 124.46L152.00 126.17L152.50 127.58L153.00 128.85L153.50 129.77L154.00 130.04L154.50 130.38L155.00 130.56L155.50 130.48L156.00 130.21L156.50 129.64L157.00 128.04L157.50 127.95L158.00 126.96L158.50 127.16L159.00 127.19L159.50 127.91L160.00 128.38L160.50 129.77L161.00 130.10L161.50 131.05L162.00 131.68L162.50 131.49L163.00 132.16L163.50 131.34L164.00 132.16L164.50 131.89L165.00 131.83L165.50 131.69L166.00 131.76L166.50 132.62L167.00 132.50L167.50 132.25L168.00 132.99L168.50 132.88L169.00 131.99L169.50 131.86L170.00 132.13L170.50 131.78L171.00 131.66L171.50 132.00L172.00 131.60L172.50 131.22L173.00 130.93L173.50 130.45L174.00 130.71L174.50 131.41L175.00 130.62L175.50 131.04L176.00 130.87L176.50 130.99L177.00 131.42L177.50 130.80L178.00 131.44L178.50 131.68L179.00 131.81L179.50 131.71L180.00 132.06L180.50 132.44L181.00 132.62L181.50 132.52L182.00 132.69L182.50 133.08L183.00 132.71L183.50 133.21L184.00 132.98L184.50 133.28L185.00 133.67L185.50 133.66L186.00 133.26L186.50 133.56L187.00 132.83L187.50 132.24L188.00 132.87L188.50 132.76L189.00 133.25L189.50 133.32L190.00 133.79L190.50 133.56L191.00 133.52L191.50 133.48L192.00 133.70L192.50 133.70L193.00 132.62L193.50 132.36L194.00 132.94L194.50 132.32L195.00 132.19L195.50 132.18L196.00 132.64L196.50 132.55L197.00 132.65L197.50 132.75L198.00 132.63L198.50 132.01L199.00 131.82L199.50 131.19L200.00 131.68L200.50 131.56L201.00 131.64L201.50 131.90L202.00 132.13L202.50 132.24L203.00 132.10L203.50 132.10L204.00 132.38L204.50 132.36L205.00 132.37L205.50 132.14L206.00 131.97L206.50 132.51L207.00 132.06L207.50 131.92L208.00 131.79L208.50 131.91L209.00 131.45L209.50 131.30L210.00 131.14L210.50 130.92L211.00 131.06L211.50 130.61L212.00 130.71L212.50 130.65L213.00 130.79L213.50 130.94L214.00 131.32L214.50 131.51L215.00 131.82L215.50 132.15L216.00 132.33L216.50 132.55L217.00 132.77L217.50 132.88L218.00 133.00L218.50 133.06L219.00 132.93L219.50 133.21L220.00 133.02L220.50 132.92L221.00 133.24L221.50 132.97L222.00 133.05L222.50 133.07L223.00 133.14L223.50 132.93L224.00 132.93L224.50 132.82L225.00 132.90L225.50 132.79L226.00 132.83L226.50 133.11L227.00 132.92L227.50 133.02L228.00 132.89L228.50 133.02L229.00 132.84L229.50 132.85L230.00 132.85L230.50 133.03L231.00 132.88L231.50 132.67L232.00 132.82L232.50 132.63L233.00 132.98L233.50 132.93L234.00 132.72L234.50 132.78L235.00 132.54L235.50 132.53L236.00 132.41L236.50 132.19L237.00 132.33L237.50 132.16L238.00 132.41L238.50 132.26L239.00 132.34L239.50 132.58L240.00 132.56L240.50 132.08L241.00 131.93L241.50 131.89L242.00 131.65L242.50 131.39L243.00 131.76L243.50 131.25L244.00 131.47L244.50 131.26L245.00 131.34L245.50 131.01L246.00 131.15L246.50 131.20L247.00 131.18L247.50 131.08L248.00 130.94L248.50 130.80L249.00 130.94L249.50 130.87L250.00 130.86L250.50 131.16L251.00 130.87L251.50 131.31L252.00 131.23L252.50 131.37L253.00 131.56L253.50 131.71L254.00 131.99L254.50 132.22L255.00 132.17L255.50 132.33L256.00 132.44L256.50 132.64L257.00 132.91L257.50 132.60L258.00 132.73L258.50 132.68L259.00 132.57L259.50 132.79L260.00 132.79L260.50 132.83L261.00 132.64L261.50 132.81L262.00 133.10L262.50 133.23L263.00 133.10L263.50 133.25L264.00 133.16L264.50 133.11L265.00 133.11L265.50 133.57L266.00 133.33L266.50 133.66L267.00 133.72L267.50 133.49L268.00 133.53L268.50 133.54L269.00 133.50L269.50 133.63L270.00 133.59L270.50 133.64L271.00 133.57L271.50 133.26L272.00 133.29L272.50 133.41L273.00 133.55L273.50 133.62L274.00 133.90L274.50 133.67L275.00 133.66L275.50 133.74L276.00 133.47L276.50 133.76L277.00 133.71L277.50 133.76L278.00 133.50L278.50 133.58L279.00 133.67L279.50 133.72L280.00 133.65L280.50 133.99L281.00 133.94L281.50 133.95L282.00 133.74L282.50 134.02L283.00 133.67L283.50 133.68L284.00 133.91L284.50 133.87L285.00 133.57L285.50 133.99L286.00 134.02L286.50 134.01L287.00 133.93L287.50 134.27L288.00 134.37L288.50 134.26L289.00 134.38L289.50 134.22L290.00 134.14L290.50 134.14L291.00 133.78L291.50 134.02L292.00 133.75L292.50 133.82L293.00 133.94L293.50 134.15L294.00 134.14L294.50 134.09L295.00 134.07L295.50 133.95L296.00 133.72L296.50 133.93L297.00 134.04L297.50 133.95L298.00 134.08L298.50 134.25L299.00 134.33L299.50 134.14L300.00 134.34L300.50 134.16L301.00 134.15L301.50 134.20L302.00 133.96L302.50 134.06L303.00 133.93L303.50 133.93L304.00 133.97L304.50 133.78L305.00 134.09L305.50 133.86L306.00 134.10L306.50 133.99L307.00 134.18L307.50 134.48L308.00 134.12L308.50 134.29L309.00 134.23L309.50 134.18L310.00 134.11L310.50 134.19L311.00 134.25L311.50 134.21L312.00 134.27L312.50 134.34L313.00 134.28L313.50 134.00L314.00 134.26L314.50 134.16L315.00 134.38L315.50 134.27L316.00 134.20L316.50 134.54L317.00 134.33L317.50 134.23L318.00 134.38L318.50 134.13L319.00 134.38L319.50 134.08L320.00 134.30L320.50 134.28L321.00 134.03L321.50 134.35L322.00 134.32L322.50 134.41L323.00 134.39L323.50 134.44L324.00 134.12L324.50 134.18L325.00 134.55L325.50 134.44L326.00 134.54L326.50 134.43L327.00 134.44L327.50 134.28L328.00 134.28L328.50 134.32L329.00 134.39L329.50 133.92L330.00 134.13L330.50 134.43L331.00 134.47L331.50 134.69L332.00 134.51L332.50 134.39L333.00 134.50L333.50 134.24L334.00 133.89L334.50 134.02L335.00 134.22L335.50 134.15L336.00 134.46L336.50 134.48L337.00 134.31L337.50 134.19L338.00 134.48L338.50 134.28L339.00 134.27L339.50 134.28L340.00 134.36L340.50 134.62L341.00 134.76L341.50 134.40L342.00 134.24L342.50 134.60L343.00 134.59L343.50 134.62L344.00 134.38L344.50 134.48L345.00 134.28L345.50 134.30L346.00 134.39L346.50 134.45L347.00 134.58L347.50 134.57L348.00 134.31L348.50 134.65L349.00 134.35L349.50 134.54L350.00 134.74L350.50 134.25L351.00 134.40L351.50 134.58L352.00 134.63L352.50 134.77L353.00 134.81L353.50 134.62L354.00 134.70L354.50 134.43L355.00 134.73L355.50 134.56L356.00 134.69L356.50 134.49L357.00 134.70L357.50 134.38L358.00 134.55L358.50 134.47L359.00 134.63L359.50 134.64L360.00 134.58L360.50 134.67L361.00 134.75L361.50 134.82L362.00 134.85L362.50 134.84L363.00 134.98L363.50 134.88L364.00 134.68L364.50 134.76L365.00 134.67L365.50 134.72L366.00 134.53L366.50 134.96L367.00 134.72L367.50 134.73L368.00 134.89L368.50 134.62L369.00 134.58L369.50 134.57L370.00 134.76L370.50 135.13L371.00 134.85L371.50 135.12L372.00 134.92L372.50 134.72L373.00 134.48L373.50 134.70L374.00 134.76L374.50 134.67L375.00 134.74L375.50 135.00L376.00 135.01L376.50 134.81L377.00 134.87L377.50 134.79L378.00 134.52L378.50 134.28L379.00 134.36L379.50 134.42L380.00 134.67L380.50 134.70L381.00 134.56L381.50 134.70L382.00 134.76" stroke="#4fa888" clip-path="url(#c_green)" opacity="0.45"/>
<path d="M43.00 176.21L43.50 176.31L44.00 176.39L44.50 176.34L45.00 176.60L45.50 176.53L46.00 176.23L46.50 176.26L47.00 175.87L47.50 176.25L48.00 175.75L48.50 176.21L49.00 176.00L49.50 176.39L50.00 176.36L50.50 176.33L51.00 176.57L51.50 176.61L52.00 176.94L52.50 176.76L53.00 176.59L53.50 176.66L54.00 176.31L54.50 176.72L55.00 176.97L55.50 176.56L56.00 177.00L56.50 177.34L57.00 177.32L57.50 177.38L58.00 177.45L58.50 177.00L59.00 177.45L59.50 177.00L60.00 176.89L60.50 177.25L61.00 176.77L61.50 177.12L62.00 176.76L62.50 177.22L63.00 177.28L63.50 176.93L64.00 177.11L64.50 177.11L65.00 176.65L65.50 176.79L66.00 176.63L66.50 176.51L67.00 176.54L67.50 176.98L68.00 177.05L68.50 177.07L69.00 176.98L69.50 176.87L70.00 176.52L70.50 176.87L71.00 176.31L71.50 176.68L72.00 176.43L72.50 176.47L73.00 176.97L73.50 176.63L74.00 176.19L74.50 176.50L75.00 176.16L75.50 176.65L76.00 176.02L76.50 176.41L77.00 176.18L77.50 176.06L78.00 176.31L78.50 176.33L79.00 175.99L79.50 175.65L80.00 175.57L80.50 175.62L81.00 175.44L81.50 175.79L82.00 175.14L82.50 175.49L83.00 175.08L83.50 174.88L84.00 174.48L84.50 173.93L85.00 172.88L85.50 169.51L86.00 163.53L86.50 155.79L86.90 152.58L87.00 153.04L87.50 159.49L88.00 166.66L88.50 171.33L89.00 173.40L89.50 174.39L90.00 174.26L90.50 174.62L91.00 174.34L91.50 174.48L92.00 174.88L92.50 174.76L93.00 174.74L93.50 174.61L94.00 174.84L94.50 175.20L95.00 174.80L95.50 174.73L96.00 174.43L96.50 174.72L97.00 174.21L97.50 174.87L98.00 174.18L98.50 174.18L99.00 174.25L99.50 173.61L100.00 173.60L100.50 173.48L101.00 173.30L101.50 173.41L102.00 172.07L102.50 170.48L103.00 165.14L103.50 156.57L104.00 145.31L104.40 140.28L104.50 140.57L105.00 149.58L105.50 159.66L106.00 167.11L106.50 170.77L107.00 173.33L107.50 173.72L108.00 174.21L108.50 174.66L109.00 175.58L109.50 174.72L110.00 174.67L110.50 174.10L111.00 174.08L111.50 173.07L112.00 173.95L112.50 173.45L113.00 174.26L113.50 173.79L114.00 174.36L114.50 174.12L115.00 174.69L115.50 174.39L116.00 173.46L116.50 172.93L117.00 172.19L117.50 172.12L118.00 171.52L118.50 171.57L119.00 171.29L119.50 170.73L120.00 170.59L120.50 169.95L121.00 169.14L121.50 168.78L122.00 168.84L122.50 168.72L123.00 168.83L123.50 169.19L124.00 169.05L124.50 169.28L125.00 168.66L125.50 167.83L126.00 166.52L126.50 165.38L127.00 164.44L127.50 164.32L128.00 163.13L128.50 162.35L129.00 162.89L129.50 162.50L130.00 162.37L130.50 162.51L131.00 163.08L131.50 162.60L132.00 163.70L132.50 163.33L133.00 163.56L133.50 163.18L134.00 163.05L134.50 163.41L135.00 163.62L135.50 164.44L136.00 165.77L136.50 167.10L137.00 167.90L137.50 169.38L138.00 170.39L138.50 171.38L139.00 172.26L139.50 172.44L140.00 173.17L140.50 173.96L141.00 174.53L141.50 174.54L142.00 174.69L142.50 175.25L143.00 174.81L143.50 174.75L144.00 174.61L144.50 174.37L145.00 173.65L145.50 172.43L146.00 171.64L146.50 171.70L147.00 170.76L147.50 170.28L148.00 170.16L148.50 168.99L149.00 168.69L149.50 168.03L150.00 167.76L150.50 168.01L151.00 168.22L151.50 169.22L152.00 170.85L152.50 171.49L153.00 172.38L153.50 172.72L154.00 172.52L154.50 172.63L155.00 173.05L155.50 173.79L156.00 173.67L156.50 173.27L157.00 172.45L157.50 172.32L158.00 171.72L158.50 172.59L159.00 172.86L159.50 173.39L160.00 174.55L160.50 175.43L161.00 175.72L161.50 175.86L162.00 176.69L162.50 176.86L163.00 176.82L163.50 176.89L164.00 176.61L164.50 176.27L165.00 176.78L165.50 176.50L166.00 176.23L166.50 176.71L167.00 176.77L167.50 176.98L168.00 176.66L168.50 176.78L169.00 176.15L169.50 176.22L170.00 175.11L170.50 175.01L171.00 175.53L171.50 176.07L172.00 176.08L172.50 176.10L173.00 175.91L173.50 175.16L174.00 175.48L174.50 175.43L175.00 175.67L175.50 175.57L176.00 175.01L176.50 175.47L177.00 174.92L177.50 174.97L178.00 175.43L178.50 175.18L179.00 176.44L179.50 175.84L180.00 176.83L180.50 176.70L181.00 177.07L181.50 176.96L182.00 177.34L182.50 176.80L183.00 176.38L183.50 176.92L184.00 177.09L184.50 177.34L185.00 178.01L185.50 178.07L186.00 178.36L186.50 178.55L187.00 178.48L187.50 177.87L188.00 177.54L188.50 177.43L189.00 177.97L189.50 177.96L190.00 177.98L190.50 177.85L191.00 177.71L191.50 177.79L192.00 177.41L192.50 178.10L193.00 177.44L193.50 177.67L194.00 177.51L194.50 178.00L195.00 177.18L195.50 177.22L196.00 177.39L196.50 177.82L197.00 177.67L197.50 177.53L198.00 177.57L198.50 177.70L199.00 177.14L199.50 176.66L200.00 176.62L200.50 176.55L201.00 176.79L201.50 176.83L202.00 176.60L202.50 176.42L203.00 176.33L203.50 176.24L204.00 175.98L204.50 176.29L205.00 176.21L205.50 176.18L206.00 176.26L206.50 176.18L207.00 176.33L207.50 176.28L208.00 175.81L208.50 175.90L209.00 175.77L209.50 176.13L210.00 176.09L210.50 176.16L211.00 176.03L211.50 176.30L212.00 176.37L212.50 176.10L213.00 176.14L213.50 176.25L214.00 176.50L214.50 176.62L215.00 176.90L215.50 177.11L216.00 177.00L216.50 177.45L217.00 177.35L217.50 177.73L218.00 177.69L218.50 177.98L219.00 177.85L219.50 177.84L220.00 177.77L220.50 178.01L221.00 177.88L221.50 177.94L222.00 178.15L222.50 178.12L223.00 177.76L223.50 177.86L224.00 178.06L224.50 177.84L225.00 177.91L225.50 178.14L226.00 178.03L226.50 177.83L227.00 177.67L227.50 177.71L228.00 177.43L228.50 177.65L229.00 177.55L229.50 177.73L230.00 177.61L230.50 177.62L231.00 176.97L231.50 177.47L232.00 177.43L232.50 177.49L233.00 177.45L233.50 177.51L234.00 177.33L234.50 177.15L235.00 176.96L235.50 177.08L236.00 176.79L236.50 176.63L237.00 176.85L237.50 176.52L238.00 176.88L238.50 176.69L239.00 176.70L239.50 176.54L240.00 176.51L240.50 176.32L241.00 176.52L241.50 176.26L242.00 176.38L242.50 176.11L243.00 175.96L243.50 175.98L244.00 176.27L244.50 176.14L245.00 176.26L245.50 176.43L246.00 176.76L246.50 176.85L247.00 176.84L247.50 176.65L248.00 176.82L248.50 176.52L249.00 176.79L249.50 176.70L250.00 176.87L250.50 176.97L251.00 176.87L251.50 176.59L252.00 176.93L252.50 177.11L253.00 176.99L253.50 177.20L254.00 177.20L254.50 177.11L255.00 177.27L255.50 177.20L256.00 177.38L256.50 177.39L257.00 177.49L257.50 177.73L258.00 177.53L258.50 177.92L259.00 177.82L259.50 178.10L260.00 177.92L260.50 177.76L261.00 178.00L261.50 178.18L262.00 177.99L262.50 178.01L263.00 178.00L263.50 178.13L264.00 178.10L264.50 178.19L265.00 178.30L265.50 178.27L266.00 178.36L266.50 178.20L267.00 178.24L267.50 178.27L268.00 178.30L268.50 178.15L269.00 178.44L269.50 178.24L270.00 178.20L270.50 178.33L271.00 178.13L271.50 178.09L272.00 178.32L272.50 178.29L273.00 178.14L273.50 178.19L274.00 177.95L274.50 177.84L275.00 177.90L275.50 178.40L276.00 178.06L276.50 178.13L277.00 178.11L277.50 178.19L278.00 177.95L278.50 177.95L279.00 177.90L279.50 177.84L280.00 177.87L280.50 177.76L281.00 178.08L281.50 178.08L282.00 178.25L282.50 178.46L283.00 178.09L283.50 178.17L284.00 178.32L284.50 178.04L285.00 178.12L285.50 178.24L286.00 178.21L286.50 178.23L287.00 178.30L287.50 178.23L288.00 178.48L288.50 178.50L289.00 178.34L289.50 178.62L290.00 178.71L290.50 178.45L291.00 178.49L291.50 178.46L292.00 178.73L292.50 178.67L293.00 178.32L293.50 178.40L294.00 178.31L294.50 178.32L295.00 178.43L295.50 178.27L296.00 178.37L296.50 178.06L297.00 178.57L297.50 178.34L298.00 178.74L298.50 178.75L299.00 179.07L299.50 178.87L300.00 178.93L300.50 178.56L301.00 178.71L301.50 178.41L302.00 178.76L302.50 178.52L303.00 178.69L303.50 178.51L304.00 178.49L304.50 178.71L305.00 178.87L305.50 178.66L306.00 178.92L306.50 178.56L307.00 178.78L307.50 178.66L308.00 178.78L308.50 178.73L309.00 178.84L309.50 178.49L310.00 178.76L310.50 178.59L311.00 178.60L311.50 178.54L312.00 178.75L312.50 178.95L313.00 178.77L313.50 178.88L314.00 179.26L314.50 179.00L315.00 179.01L315.50 179.10L316.00 179.08L316.50 179.05L317.00 178.97L317.50 179.10L318.00 178.94L318.50 178.65L319.00 178.80L319.50 178.72L320.00 179.05L320.50 178.85L321.00 178.60L321.50 178.88L322.00 178.85L322.50 178.86L323.00 178.83L323.50 178.98L324.00 179.18L324.50 178.88L325.00 179.02L325.50 178.96L326.00 178.96L326.50 179.11L327.00 179.00L327.50 179.51L328.00 179.34L328.50 179.21L329.00 179.37L329.50 179.05L330.00 179.06L330.50 179.57L331.00 179.58L331.50 179.39L332.00 179.55L332.50 179.19L333.00 179.07L333.50 178.89L334.00 179.02L334.50 178.96L335.00 178.85L335.50 178.92L336.00 179.23L336.50 179.31L337.00 179.31L337.50 179.45L338.00 179.40L338.50 179.20L339.00 179.30L339.50 179.64L340.00 179.31L340.50 179.50L341.00 179.15L341.50 179.63L342.00 179.17L342.50 179.41L343.00 179.30L343.50 179.10L344.00 179.38L344.50 179.52L345.00 179.34L345.50 179.69L346.00 179.47L346.50 179.55L347.00 179.79L347.50 179.41L348.00 179.57L348.50 179.53L349.00 179.39L349.50 179.42L350.00 179.25L350.50 179.25L351.00 179.24L351.50 179.09L352.00 179.33L352.50 179.28L353.00 179.50L353.50 179.54L354.00 179.56L354.50 179.58L355.00 179.61L355.50 179.78L356.00 179.87L356.50 179.72L357.00 179.60L357.50 179.96L358.00 179.91L358.50 179.88L359.00 179.78L359.50 179.77L360.00 179.74L360.50 179.62L361.00 179.59L361.50 179.66L362.00 179.80L362.50 179.95L363.00 179.57L363.50 179.99L364.00 179.65L364.50 179.86L365.00 179.63L365.50 179.85L366.00 179.84L366.50 179.92L367.00 179.81L367.50 179.78L368.00 179.64L368.50 179.87L369.00 179.44L369.50 179.72L370.00 179.77L370.50 179.50L371.00 179.53L371.50 179.55L372.00 179.64L372.50 179.55L373.00 179.73L373.50 179.63L374.00 179.77L374.50 179.70L375.00 179.67L375.50 179.98L376.00 180.08L376.50 179.68L377.00 179.77L377.50 179.74L378.00 180.06L378.50 179.72L379.00 180.03L379.50 179.96L380.00 180.12L380.50 179.74L381.00 180.06L381.50 179.98L382.00 180.09" stroke="#e2d048" mask="url(#m_yellow)"/>
<path d="M43.00 176.21L43.50 176.31L44.00 176.39L44.50 176.34L45.00 176.60L45.50 176.53L46.00 176.23L46.50 176.26L47.00 175.87L47.50 176.25L48.00 175.75L48.50 176.21L49.00 176.00L49.50 176.39L50.00 176.36L50.50 176.33L51.00 176.57L51.50 176.61L52.00 176.94L52.50 176.76L53.00 176.59L53.50 176.66L54.00 176.31L54.50 176.72L55.00 176.97L55.50 176.56L56.00 177.00L56.50 177.34L57.00 177.32L57.50 177.38L58.00 177.45L58.50 177.00L59.00 177.45L59.50 177.00L60.00 176.89L60.50 177.25L61.00 176.77L61.50 177.12L62.00 176.76L62.50 177.22L63.00 177.28L63.50 176.93L64.00 177.11L64.50 177.11L65.00 176.65L65.50 176.79L66.00 176.63L66.50 176.51L67.00 176.54L67.50 176.98L68.00 177.05L68.50 177.07L69.00 176.98L69.50 176.87L70.00 176.52L70.50 176.87L71.00 176.31L71.50 176.68L72.00 176.43L72.50 176.47L73.00 176.97L73.50 176.63L74.00 176.19L74.50 176.50L75.00 176.16L75.50 176.65L76.00 176.02L76.50 176.41L77.00 176.18L77.50 176.06L78.00 176.31L78.50 176.33L79.00 175.99L79.50 175.65L80.00 175.57L80.50 175.62L81.00 175.44L81.50 175.79L82.00 175.14L82.50 175.49L83.00 175.08L83.50 174.88L84.00 174.48L84.50 173.93L85.00 172.88L85.50 169.51L86.00 163.53L86.50 155.79L86.90 152.58L87.00 153.04L87.50 159.49L88.00 166.66L88.50 171.33L89.00 173.40L89.50 174.39L90.00 174.26L90.50 174.62L91.00 174.34L91.50 174.48L92.00 174.88L92.50 174.76L93.00 174.74L93.50 174.61L94.00 174.84L94.50 175.20L95.00 174.80L95.50 174.73L96.00 174.43L96.50 174.72L97.00 174.21L97.50 174.87L98.00 174.18L98.50 174.18L99.00 174.25L99.50 173.61L100.00 173.60L100.50 173.48L101.00 173.30L101.50 173.41L102.00 172.07L102.50 170.48L103.00 165.14L103.50 156.57L104.00 145.31L104.40 140.28L104.50 140.57L105.00 149.58L105.50 159.66L106.00 167.11L106.50 170.77L107.00 173.33L107.50 173.72L108.00 174.21L108.50 174.66L109.00 175.58L109.50 174.72L110.00 174.67L110.50 174.10L111.00 174.08L111.50 173.07L112.00 173.95L112.50 173.45L113.00 174.26L113.50 173.79L114.00 174.36L114.50 174.12L115.00 174.69L115.50 174.39L116.00 173.46L116.50 172.93L117.00 172.19L117.50 172.12L118.00 171.52L118.50 171.57L119.00 171.29L119.50 170.73L120.00 170.59L120.50 169.95L121.00 169.14L121.50 168.78L122.00 168.84L122.50 168.72L123.00 168.83L123.50 169.19L124.00 169.05L124.50 169.28L125.00 168.66L125.50 167.83L126.00 166.52L126.50 165.38L127.00 164.44L127.50 164.32L128.00 163.13L128.50 162.35L129.00 162.89L129.50 162.50L130.00 162.37L130.50 162.51L131.00 163.08L131.50 162.60L132.00 163.70L132.50 163.33L133.00 163.56L133.50 163.18L134.00 163.05L134.50 163.41L135.00 163.62L135.50 164.44L136.00 165.77L136.50 167.10L137.00 167.90L137.50 169.38L138.00 170.39L138.50 171.38L139.00 172.26L139.50 172.44L140.00 173.17L140.50 173.96L141.00 174.53L141.50 174.54L142.00 174.69L142.50 175.25L143.00 174.81L143.50 174.75L144.00 174.61L144.50 174.37L145.00 173.65L145.50 172.43L146.00 171.64L146.50 171.70L147.00 170.76L147.50 170.28L148.00 170.16L148.50 168.99L149.00 168.69L149.50 168.03L150.00 167.76L150.50 168.01L151.00 168.22L151.50 169.22L152.00 170.85L152.50 171.49L153.00 172.38L153.50 172.72L154.00 172.52L154.50 172.63L155.00 173.05L155.50 173.79L156.00 173.67L156.50 173.27L157.00 172.45L157.50 172.32L158.00 171.72L158.50 172.59L159.00 172.86L159.50 173.39L160.00 174.55L160.50 175.43L161.00 175.72L161.50 175.86L162.00 176.69L162.50 176.86L163.00 176.82L163.50 176.89L164.00 176.61L164.50 176.27L165.00 176.78L165.50 176.50L166.00 176.23L166.50 176.71L167.00 176.77L167.50 176.98L168.00 176.66L168.50 176.78L169.00 176.15L169.50 176.22L170.00 175.11L170.50 175.01L171.00 175.53L171.50 176.07L172.00 176.08L172.50 176.10L173.00 175.91L173.50 175.16L174.00 175.48L174.50 175.43L175.00 175.67L175.50 175.57L176.00 175.01L176.50 175.47L177.00 174.92L177.50 174.97L178.00 175.43L178.50 175.18L179.00 176.44L179.50 175.84L180.00 176.83L180.50 176.70L181.00 177.07L181.50 176.96L182.00 177.34L182.50 176.80L183.00 176.38L183.50 176.92L184.00 177.09L184.50 177.34L185.00 178.01L185.50 178.07L186.00 178.36L186.50 178.55L187.00 178.48L187.50 177.87L188.00 177.54L188.50 177.43L189.00 177.97L189.50 177.96L190.00 177.98L190.50 177.85L191.00 177.71L191.50 177.79L192.00 177.41L192.50 178.10L193.00 177.44L193.50 177.67L194.00 177.51L194.50 178.00L195.00 177.18L195.50 177.22L196.00 177.39L196.50 177.82L197.00 177.67L197.50 177.53L198.00 177.57L198.50 177.70L199.00 177.14L199.50 176.66L200.00 176.62L200.50 176.55L201.00 176.79L201.50 176.83L202.00 176.60L202.50 176.42L203.00 176.33L203.50 176.24L204.00 175.98L204.50 176.29L205.00 176.21L205.50 176.18L206.00 176.26L206.50 176.18L207.00 176.33L207.50 176.28L208.00 175.81L208.50 175.90L209.00 175.77L209.50 176.13L210.00 176.09L210.50 176.16L211.00 176.03L211.50 176.30L212.00 176.37L212.50 176.10L213.00 176.14L213.50 176.25L214.00 176.50L214.50 176.62L215.00 176.90L215.50 177.11L216.00 177.00L216.50 177.45L217.00 177.35L217.50 177.73L218.00 177.69L218.50 177.98L219.00 177.85L219.50 177.84L220.00 177.77L220.50 178.01L221.00 177.88L221.50 177.94L222.00 178.15L222.50 178.12L223.00 177.76L223.50 177.86L224.00 178.06L224.50 177.84L225.00 177.91L225.50 178.14L226.00 178.03L226.50 177.83L227.00 177.67L227.50 177.71L228.00 177.43L228.50 177.65L229.00 177.55L229.50 177.73L230.00 177.61L230.50 177.62L231.00 176.97L231.50 177.47L232.00 177.43L232.50 177.49L233.00 177.45L233.50 177.51L234.00 177.33L234.50 177.15L235.00 176.96L235.50 177.08L236.00 176.79L236.50 176.63L237.00 176.85L237.50 176.52L238.00 176.88L238.50 176.69L239.00 176.70L239.50 176.54L240.00 176.51L240.50 176.32L241.00 176.52L241.50 176.26L242.00 176.38L242.50 176.11L243.00 175.96L243.50 175.98L244.00 176.27L244.50 176.14L245.00 176.26L245.50 176.43L246.00 176.76L246.50 176.85L247.00 176.84L247.50 176.65L248.00 176.82L248.50 176.52L249.00 176.79L249.50 176.70L250.00 176.87L250.50 176.97L251.00 176.87L251.50 176.59L252.00 176.93L252.50 177.11L253.00 176.99L253.50 177.20L254.00 177.20L254.50 177.11L255.00 177.27L255.50 177.20L256.00 177.38L256.50 177.39L257.00 177.49L257.50 177.73L258.00 177.53L258.50 177.92L259.00 177.82L259.50 178.10L260.00 177.92L260.50 177.76L261.00 178.00L261.50 178.18L262.00 177.99L262.50 178.01L263.00 178.00L263.50 178.13L264.00 178.10L264.50 178.19L265.00 178.30L265.50 178.27L266.00 178.36L266.50 178.20L267.00 178.24L267.50 178.27L268.00 178.30L268.50 178.15L269.00 178.44L269.50 178.24L270.00 178.20L270.50 178.33L271.00 178.13L271.50 178.09L272.00 178.32L272.50 178.29L273.00 178.14L273.50 178.19L274.00 177.95L274.50 177.84L275.00 177.90L275.50 178.40L276.00 178.06L276.50 178.13L277.00 178.11L277.50 178.19L278.00 177.95L278.50 177.95L279.00 177.90L279.50 177.84L280.00 177.87L280.50 177.76L281.00 178.08L281.50 178.08L282.00 178.25L282.50 178.46L283.00 178.09L283.50 178.17L284.00 178.32L284.50 178.04L285.00 178.12L285.50 178.24L286.00 178.21L286.50 178.23L287.00 178.30L287.50 178.23L288.00 178.48L288.50 178.50L289.00 178.34L289.50 178.62L290.00 178.71L290.50 178.45L291.00 178.49L291.50 178.46L292.00 178.73L292.50 178.67L293.00 178.32L293.50 178.40L294.00 178.31L294.50 178.32L295.00 178.43L295.50 178.27L296.00 178.37L296.50 178.06L297.00 178.57L297.50 178.34L298.00 178.74L298.50 178.75L299.00 179.07L299.50 178.87L300.00 178.93L300.50 178.56L301.00 178.71L301.50 178.41L302.00 178.76L302.50 178.52L303.00 178.69L303.50 178.51L304.00 178.49L304.50 178.71L305.00 178.87L305.50 178.66L306.00 178.92L306.50 178.56L307.00 178.78L307.50 178.66L308.00 178.78L308.50 178.73L309.00 178.84L309.50 178.49L310.00 178.76L310.50 178.59L311.00 178.60L311.50 178.54L312.00 178.75L312.50 178.95L313.00 178.77L313.50 178.88L314.00 179.26L314.50 179.00L315.00 179.01L315.50 179.10L316.00 179.08L316.50 179.05L317.00 178.97L317.50 179.10L318.00 178.94L318.50 178.65L319.00 178.80L319.50 178.72L320.00 179.05L320.50 178.85L321.00 178.60L321.50 178.88L322.00 178.85L322.50 178.86L323.00 178.83L323.50 178.98L324.00 179.18L324.50 178.88L325.00 179.02L325.50 178.96L326.00 178.96L326.50 179.11L327.00 179.00L327.50 179.51L328.00 179.34L328.50 179.21L329.00 179.37L329.50 179.05L330.00 179.06L330.50 179.57L331.00 179.58L331.50 179.39L332.00 179.55L332.50 179.19L333.00 179.07L333.50 178.89L334.00 179.02L334.50 178.96L335.00 178.85L335.50 178.92L336.00 179.23L336.50 179.31L337.00 179.31L337.50 179.45L338.00 179.40L338.50 179.20L339.00 179.30L339.50 179.64L340.00 179.31L340.50 179.50L341.00 179.15L341.50 179.63L342.00 179.17L342.50 179.41L343.00 179.30L343.50 179.10L344.00 179.38L344.50 179.52L345.00 179.34L345.50 179.69L346.00 179.47L346.50 179.55L347.00 179.79L347.50 179.41L348.00 179.57L348.50 179.53L349.00 179.39L349.50 179.42L350.00 179.25L350.50 179.25L351.00 179.24L351.50 179.09L352.00 179.33L352.50 179.28L353.00 179.50L353.50 179.54L354.00 179.56L354.50 179.58L355.00 179.61L355.50 179.78L356.00 179.87L356.50 179.72L357.00 179.60L357.50 179.96L358.00 179.91L358.50 179.88L359.00 179.78L359.50 179.77L360.00 179.74L360.50 179.62L361.00 179.59L361.50 179.66L362.00 179.80L362.50 179.95L363.00 179.57L363.50 179.99L364.00 179.65L364.50 179.86L365.00 179.63L365.50 179.85L366.00 179.84L366.50 179.92L367.00 179.81L367.50 179.78L368.00 179.64L368.50 179.87L369.00 179.44L369.50 179.72L370.00 179.77L370.50 179.50L371.00 179.53L371.50 179.55L372.00 179.64L372.50 179.55L373.00 179.73L373.50 179.63L374.00 179.77L374.50 179.70L375.00 179.67L375.50 179.98L376.00 180.08L376.50 179.68L377.00 179.77L377.50 179.74L378.00 180.06L378.50 179.72L379.00 180.03L379.50 179.96L380.00 180.12L380.50 179.74L381.00 180.06L381.50 179.98L382.00 180.09" stroke="#e2d048" clip-path="url(#c_yellow)" opacity="0.35"/>
<path d="M43.00 220.22L43.50 220.16L44.00 220.45L44.50 220.71L45.00 220.50L45.50 220.57L46.00 220.99L46.50 221.13L47.00 221.03L47.50 221.47L48.00 220.91L48.50 221.21L49.00 220.87L49.50 221.21L50.00 221.42L50.50 221.19L51.00 220.90L51.50 221.32L52.00 221.25L52.50 221.41L53.00 221.00L53.50 221.38L54.00 221.32L54.50 221.69L55.00 221.71L55.50 221.84L56.00 221.90L56.50 221.92L57.00 222.24L57.50 221.76L58.00 221.96L58.50 221.88L59.00 222.17L59.50 221.81L60.00 221.97L60.50 222.39L61.00 222.12L61.50 221.99L62.00 221.89L62.50 221.88L63.00 222.23L63.50 221.89L64.00 221.77L64.50 222.34L65.00 222.24L65.50 222.06L66.00 221.81L66.50 222.34L67.00 222.54L67.50 222.16L68.00 222.15L68.50 222.08L69.00 222.12L69.50 221.96L70.00 221.67L70.50 221.35L71.00 221.47L71.50 221.65L72.00 221.42L72.50 221.37L73.00 221.21L73.50 221.32L74.00 221.40L74.50 221.59L75.00 221.65L75.50 221.61L76.00 221.55L76.50 220.79L77.00 221.46L77.50 220.86L78.00 221.21L78.50 221.02L79.00 220.99L79.50 220.54L80.00 220.84L80.50 220.21L81.00 220.84L81.50 220.18L82.00 220.75L82.50 219.98L83.00 220.06L83.50 219.85L84.00 219.81L84.50 219.35L85.00 218.64L85.50 216.58L86.00 212.54L86.50 206.20L87.00 198.59L87.30 196.81L87.50 197.64L88.00 204.65L88.50 211.80L89.00 216.17L89.50 217.93L90.00 219.05L90.50 219.31L91.00 219.56L91.50 220.08L92.00 219.57L92.50 219.26L93.00 219.81L93.50 219.13L94.00 219.20L94.50 219.22L95.00 219.26L95.50 218.61L96.00 218.73L96.50 218.59L97.00 218.80L97.50 218.69L98.00 218.53L98.50 218.47L99.00 218.04L99.50 217.81L100.00 217.95L100.50 217.44L101.00 217.35L101.50 216.86L102.00 216.15L102.50 214.97L103.00 212.40L103.50 206.67L104.00 196.45L104.50 185.34L104.90 180.43L105.00 180.77L105.50 189.58L106.00 200.64L106.50 209.05L107.00 213.25L107.50 215.64L108.00 216.23L108.50 217.25L109.00 217.91L109.50 218.08L110.00 218.07L110.50 218.07L111.00 218.23L111.50 217.85L112.00 217.51L112.50 217.39L113.00 216.95L113.50 217.18L114.00 216.78L114.50 216.98L115.00 216.30L115.50 216.17L116.00 217.45L116.50 217.53L117.00 217.92L117.50 217.44L118.00 217.68L118.50 217.16L119.00 217.01L119.50 216.39L120.00 215.93L120.50 216.07L121.00 215.17L121.50 214.19L122.00 214.42L122.50 213.85L123.00 213.85L123.50 213.11L124.00 213.03L124.50 213.35L125.00 212.63L125.50 211.92L126.00 211.16L126.50 210.09L127.00 209.68L127.50 208.61L128.00 207.80L128.50 207.71L129.00 207.00L129.50 207.18L130.00 206.85L130.50 206.55L131.00 206.72L131.50 206.83L132.00 206.55L132.50 206.38L133.00 206.07L133.50 206.07L134.00 206.99L134.50 207.61L135.00 208.10L135.50 209.61L136.00 209.18L136.50 209.56L137.00 210.64L137.50 211.71L138.00 212.65L138.50 214.00L139.00 215.08L139.50 215.67L140.00 216.50L140.50 216.89L141.00 217.81L141.50 218.62L142.00 218.16L142.50 218.02L143.00 218.26L143.50 217.87L144.00 218.14L144.50 217.75L145.00 216.68L145.50 217.11L146.00 216.06L146.50 214.99L147.00 214.35L147.50 213.87L148.00 213.36L148.50 212.90L149.00 212.40L149.50 212.53L150.00 212.15L150.50 211.88L151.00 213.14L151.50 213.08L152.00 214.25L152.50 215.25L153.00 215.82L153.50 216.55L154.00 217.67L154.50 217.83L155.00 218.33L155.50 218.69L156.00 217.95L156.50 218.10L157.00 217.20L157.50 216.85L158.00 216.64L158.50 216.84L159.00 217.19L159.50 218.05L160.00 218.56L160.50 219.75L161.00 219.95L161.50 219.97L162.00 220.32L162.50 220.42L163.00 220.59L163.50 220.50L164.00 221.01L164.50 221.28L165.00 220.87L165.50 221.39L166.00 221.52L166.50 221.44L167.00 220.75L167.50 221.15L168.00 220.55L168.50 220.29L169.00 220.20L169.50 220.06L170.00 220.76L170.50 220.18L171.00 220.33L171.50 220.04L172.00 220.37L172.50 219.19L173.00 220.23L173.50 219.48L174.00 220.15L174.50 220.11L175.00 220.09L175.50 219.35L176.00 220.11L176.50 220.22L177.00 220.33L177.50 220.95L178.00 221.00L178.50 220.83L179.00 220.56L179.50 220.82L180.00 220.70L180.50 220.46L181.00 220.57L181.50 220.39L182.00 220.86L182.50 220.44L183.00 221.18L183.50 221.56L184.00 222.36L184.50 221.90L185.00 222.82L185.50 222.19L186.00 222.14L186.50 221.69L187.00 222.50L187.50 222.47L188.00 222.70L188.50 222.77L189.00 223.11L189.50 222.56L190.00 222.94L190.50 222.79L191.00 223.11L191.50 223.12L192.00 223.39L192.50 223.52L193.00 223.05L193.50 222.48L194.00 222.06L194.50 222.41L195.00 221.87L195.50 222.34L196.00 222.19L196.50 221.96L197.00 222.27L197.50 222.52L198.00 222.08L198.50 222.79L199.00 223.05L199.50 222.79L200.00 222.33L200.50 222.40L201.00 222.44L201.50 222.14L202.00 222.35L202.50 222.17L203.00 222.03L203.50 221.97L204.00 221.74L204.50 221.62L205.00 221.63L205.50 221.34L206.00 221.19L206.50 221.32L207.00 221.13L207.50 221.05L208.00 220.91L208.50 221.23L209.00 220.97L209.50 221.05L210.00 221.14L210.50 221.00L211.00 221.02L211.50 220.99L212.00 221.11L212.50 220.83L213.00 220.91L213.50 221.30L214.00 221.26L214.50 221.54L215.00 221.93L215.50 222.11L216.00 222.58L216.50 222.35L217.00 222.83L217.50 222.74L218.00 222.63L218.50 222.44L219.00 222.59L219.50 222.30L220.00 222.82L220.50 222.66L221.00 222.48L221.50 222.88L222.00 222.83L222.50 222.97L223.00 222.77L223.50 222.92L224.00 222.69L224.50 222.81L225.00 222.78L225.50 222.81L226.00 222.82L226.50 223.14L227.00 223.03L227.50 223.06L228.00 223.41L228.50 223.26L229.00 223.10L229.50 223.02L230.00 223.20L230.50 223.04L231.00 222.94L231.50 222.64L232.00 222.54L232.50 222.70L233.00 222.63L233.50 222.41L234.00 222.55L234.50 222.43L235.00 222.60L235.50 222.39L236.00 222.47L236.50 222.65L237.00 222.59L237.50 222.63L238.00 222.21L238.50 222.26L239.00 222.37L239.50 222.18L240.00 222.10L240.50 222.22L241.00 221.89L241.50 221.95L242.00 221.72L242.50 221.40L243.00 221.53L243.50 221.46L244.00 221.54L244.50 221.26L245.00 221.28L245.50 220.93L246.00 221.38L246.50 221.04L247.00 221.17L247.50 221.08L248.00 220.91L248.50 220.81L249.00 221.17L249.50 221.07L250.00 221.56L250.50 221.62L251.00 221.90L251.50 221.93L252.00 222.07L252.50 222.20L253.00 222.56L253.50 222.85L254.00 223.17L254.50 222.83L255.00 222.90L255.50 222.80L256.00 222.93L256.50 222.65L257.00 222.50L257.50 222.85L258.00 222.76L258.50 223.31L259.00 223.31L259.50 223.45L260.00 222.90L260.50 223.24L261.00 223.17L261.50 223.29L262.00 223.45L262.50 223.39L263.00 223.69L263.50 223.54L264.00 223.69L264.50 223.40L265.00 223.44L265.50 223.61L266.00 223.04L266.50 223.39L267.00 223.56L267.50 223.67L268.00 223.67L268.50 223.60L269.00 223.60L269.50 223.46L270.00 223.63L270.50 223.65L271.00 223.51L271.50 223.48L272.00 223.56L272.50 223.60L273.00 223.57L273.50 223.68L274.00 223.48L274.50 223.53L275.00 223.56L275.50 223.70L276.00 223.33L276.50 223.56L277.00 223.49L277.50 223.24L278.00 223.56L278.50 223.54L279.00 223.69L279.50 223.77L280.00 223.97L280.50 223.93L281.00 223.97L281.50 223.75L282.00 223.55L282.50 223.71L283.00 223.70L283.50 223.88L284.00 224.02L284.50 224.18L285.00 224.08L285.50 223.94L286.00 224.13L286.50 224.20L287.00 224.25L287.50 224.41L288.00 224.15L288.50 224.28L289.00 224.05L289.50 224.22L290.00 224.06L290.50 224.06L291.00 224.43L291.50 223.97L292.00 224.16L292.50 224.00L293.00 223.97L293.50 224.22L294.00 223.98L294.50 224.07L295.00 224.12L295.50 224.02L296.00 224.45L296.50 224.31L297.00 224.56L297.50 224.36L298.00 224.48L298.50 224.39L299.00 224.55L299.50 224.27L300.00 224.29L300.50 224.52L301.00 224.33L301.50 224.10L302.00 224.18L302.50 224.26L303.00 224.23L303.50 224.33L304.00 224.29L304.50 224.40L305.00 224.18L305.50 224.49L306.00 224.41L306.50 224.41L307.00 224.51L307.50 224.30L308.00 224.48L308.50 224.21L309.00 224.45L309.50 224.52L310.00 224.44L310.50 224.74L311.00 224.68L311.50 224.78L312.00 224.82L312.50 224.43L313.00 224.35L313.50 224.43L314.00 224.72L314.50 224.61L315.00 224.81L315.50 224.55L316.00 224.52L316.50 224.52L317.00 224.50L317.50 224.27L318.00 224.28L318.50 224.65L319.00 224.19L319.50 224.51L320.00 224.83L320.50 224.51L321.00 224.62L321.50 224.73L322.00 224.53L322.50 224.58L323.00 224.22L323.50 224.17L324.00 224.41L324.50 224.32L325.00 224.77L325.50 224.79L326.00 224.77L326.50 224.51L327.00 224.50L327.50 224.50L328.00 224.34L328.50 224.68L329.00 224.92L329.50 224.99L330.00 224.83L330.50 224.76L331.00 225.12L331.50 224.66L332.00 224.79L332.50 224.92L333.00 224.78L333.50 224.98L334.00 225.13L334.50 225.23L335.00 225.06L335.50 224.60L336.00 224.96L336.50 224.83L337.00 224.77L337.50 225.04L338.00 224.84L338.50 225.12L339.00 225.05L339.50 224.88L340.00 224.85L340.50 224.92L341.00 224.94L341.50 225.08L342.00 225.12L342.50 225.30L343.00 225.08L343.50 225.14L344.00 224.97L344.50 225.02L345.00 225.07L345.50 225.27L346.00 224.98L346.50 225.07L347.00 225.02L347.50 225.14L348.00 225.01L348.50 225.01L349.00 224.66L349.50 224.96L350.00 224.93L350.50 225.05L351.00 224.96L351.50 225.24L352.00 225.12L352.50 225.10L353.00 224.74L353.50 224.86L354.00 225.14L354.50 225.03L355.00 224.99L355.50 225.09L356.00 225.30L356.50 225.34L357.00 224.97L357.50 225.22L358.00 225.42L358.50 225.43L359.00 225.11L359.50 225.04L360.00 225.29L360.50 225.13L361.00 225.36L361.50 225.45L362.00 225.17L362.50 225.31L363.00 225.16L363.50 224.97L364.00 225.26L364.50 225.19L365.00 225.07L365.50 225.19L366.00 225.29L366.50 225.38L367.00 225.60L367.50 225.67L368.00 225.92L368.50 225.62L369.00 225.67L369.50 225.83L370.00 225.41L370.50 225.40L371.00 225.57L371.50 225.33L372.00 225.25L372.50 225.35L373.00 225.37L373.50 225.47L374.00 225.19L374.50 225.29L375.00 225.27L375.50 225.32L376.00 225.18L376.50 225.28L377.00 225.18L377.50 225.41L378.00 225.21L378.50 225.35L379.00 225.17L379.50 225.13L380.00 225.33L380.50 225.33L381.00 225.59L381.50 225.62L382.00 225.90" stroke="#5a74a6" mask="url(#m_blue)"/>
<path d="M43.00 220.22L43.50 220.16L44.00 220.45L44.50 220.71L45.00 220.50L45.50 220.57L46.00 220.99L46.50 221.13L47.00 221.03L47.50 221.47L48.00 220.91L48.50 221.21L49.00 220.87L49.50 221.21L50.00 221.42L50.50 221.19L51.00 220.90L51.50 221.32L52.00 221.25L52.50 221.41L53.00 221.00L53.50 221.38L54.00 221.32L54.50 221.69L55.00 221.71L55.50 221.84L56.00 221.90L56.50 221.92L57.00 222.24L57.50 221.76L58.00 221.96L58.50 221.88L59.00 222.17L59.50 221.81L60.00 221.97L60.50 222.39L61.00 222.12L61.50 221.99L62.00 221.89L62.50 221.88L63.00 222.23L63.50 221.89L64.00 221.77L64.50 222.34L65.00 222.24L65.50 222.06L66.00 221.81L66.50 222.34L67.00 222.54L67.50 222.16L68.00 222.15L68.50 222.08L69.00 222.12L69.50 221.96L70.00 221.67L70.50 221.35L71.00 221.47L71.50 221.65L72.00 221.42L72.50 221.37L73.00 221.21L73.50 221.32L74.00 221.40L74.50 221.59L75.00 221.65L75.50 221.61L76.00 221.55L76.50 220.79L77.00 221.46L77.50 220.86L78.00 221.21L78.50 221.02L79.00 220.99L79.50 220.54L80.00 220.84L80.50 220.21L81.00 220.84L81.50 220.18L82.00 220.75L82.50 219.98L83.00 220.06L83.50 219.85L84.00 219.81L84.50 219.35L85.00 218.64L85.50 216.58L86.00 212.54L86.50 206.20L87.00 198.59L87.30 196.81L87.50 197.64L88.00 204.65L88.50 211.80L89.00 216.17L89.50 217.93L90.00 219.05L90.50 219.31L91.00 219.56L91.50 220.08L92.00 219.57L92.50 219.26L93.00 219.81L93.50 219.13L94.00 219.20L94.50 219.22L95.00 219.26L95.50 218.61L96.00 218.73L96.50 218.59L97.00 218.80L97.50 218.69L98.00 218.53L98.50 218.47L99.00 218.04L99.50 217.81L100.00 217.95L100.50 217.44L101.00 217.35L101.50 216.86L102.00 216.15L102.50 214.97L103.00 212.40L103.50 206.67L104.00 196.45L104.50 185.34L104.90 180.43L105.00 180.77L105.50 189.58L106.00 200.64L106.50 209.05L107.00 213.25L107.50 215.64L108.00 216.23L108.50 217.25L109.00 217.91L109.50 218.08L110.00 218.07L110.50 218.07L111.00 218.23L111.50 217.85L112.00 217.51L112.50 217.39L113.00 216.95L113.50 217.18L114.00 216.78L114.50 216.98L115.00 216.30L115.50 216.17L116.00 217.45L116.50 217.53L117.00 217.92L117.50 217.44L118.00 217.68L118.50 217.16L119.00 217.01L119.50 216.39L120.00 215.93L120.50 216.07L121.00 215.17L121.50 214.19L122.00 214.42L122.50 213.85L123.00 213.85L123.50 213.11L124.00 213.03L124.50 213.35L125.00 212.63L125.50 211.92L126.00 211.16L126.50 210.09L127.00 209.68L127.50 208.61L128.00 207.80L128.50 207.71L129.00 207.00L129.50 207.18L130.00 206.85L130.50 206.55L131.00 206.72L131.50 206.83L132.00 206.55L132.50 206.38L133.00 206.07L133.50 206.07L134.00 206.99L134.50 207.61L135.00 208.10L135.50 209.61L136.00 209.18L136.50 209.56L137.00 210.64L137.50 211.71L138.00 212.65L138.50 214.00L139.00 215.08L139.50 215.67L140.00 216.50L140.50 216.89L141.00 217.81L141.50 218.62L142.00 218.16L142.50 218.02L143.00 218.26L143.50 217.87L144.00 218.14L144.50 217.75L145.00 216.68L145.50 217.11L146.00 216.06L146.50 214.99L147.00 214.35L147.50 213.87L148.00 213.36L148.50 212.90L149.00 212.40L149.50 212.53L150.00 212.15L150.50 211.88L151.00 213.14L151.50 213.08L152.00 214.25L152.50 215.25L153.00 215.82L153.50 216.55L154.00 217.67L154.50 217.83L155.00 218.33L155.50 218.69L156.00 217.95L156.50 218.10L157.00 217.20L157.50 216.85L158.00 216.64L158.50 216.84L159.00 217.19L159.50 218.05L160.00 218.56L160.50 219.75L161.00 219.95L161.50 219.97L162.00 220.32L162.50 220.42L163.00 220.59L163.50 220.50L164.00 221.01L164.50 221.28L165.00 220.87L165.50 221.39L166.00 221.52L166.50 221.44L167.00 220.75L167.50 221.15L168.00 220.55L168.50 220.29L169.00 220.20L169.50 220.06L170.00 220.76L170.50 220.18L171.00 220.33L171.50 220.04L172.00 220.37L172.50 219.19L173.00 220.23L173.50 219.48L174.00 220.15L174.50 220.11L175.00 220.09L175.50 219.35L176.00 220.11L176.50 220.22L177.00 220.33L177.50 220.95L178.00 221.00L178.50 220.83L179.00 220.56L179.50 220.82L180.00 220.70L180.50 220.46L181.00 220.57L181.50 220.39L182.00 220.86L182.50 220.44L183.00 221.18L183.50 221.56L184.00 222.36L184.50 221.90L185.00 222.82L185.50 222.19L186.00 222.14L186.50 221.69L187.00 222.50L187.50 222.47L188.00 222.70L188.50 222.77L189.00 223.11L189.50 222.56L190.00 222.94L190.50 222.79L191.00 223.11L191.50 223.12L192.00 223.39L192.50 223.52L193.00 223.05L193.50 222.48L194.00 222.06L194.50 222.41L195.00 221.87L195.50 222.34L196.00 222.19L196.50 221.96L197.00 222.27L197.50 222.52L198.00 222.08L198.50 222.79L199.00 223.05L199.50 222.79L200.00 222.33L200.50 222.40L201.00 222.44L201.50 222.14L202.00 222.35L202.50 222.17L203.00 222.03L203.50 221.97L204.00 221.74L204.50 221.62L205.00 221.63L205.50 221.34L206.00 221.19L206.50 221.32L207.00 221.13L207.50 221.05L208.00 220.91L208.50 221.23L209.00 220.97L209.50 221.05L210.00 221.14L210.50 221.00L211.00 221.02L211.50 220.99L212.00 221.11L212.50 220.83L213.00 220.91L213.50 221.30L214.00 221.26L214.50 221.54L215.00 221.93L215.50 222.11L216.00 222.58L216.50 222.35L217.00 222.83L217.50 222.74L218.00 222.63L218.50 222.44L219.00 222.59L219.50 222.30L220.00 222.82L220.50 222.66L221.00 222.48L221.50 222.88L222.00 222.83L222.50 222.97L223.00 222.77L223.50 222.92L224.00 222.69L224.50 222.81L225.00 222.78L225.50 222.81L226.00 222.82L226.50 223.14L227.00 223.03L227.50 223.06L228.00 223.41L228.50 223.26L229.00 223.10L229.50 223.02L230.00 223.20L230.50 223.04L231.00 222.94L231.50 222.64L232.00 222.54L232.50 222.70L233.00 222.63L233.50 222.41L234.00 222.55L234.50 222.43L235.00 222.60L235.50 222.39L236.00 222.47L236.50 222.65L237.00 222.59L237.50 222.63L238.00 222.21L238.50 222.26L239.00 222.37L239.50 222.18L240.00 222.10L240.50 222.22L241.00 221.89L241.50 221.95L242.00 221.72L242.50 221.40L243.00 221.53L243.50 221.46L244.00 221.54L244.50 221.26L245.00 221.28L245.50 220.93L246.00 221.38L246.50 221.04L247.00 221.17L247.50 221.08L248.00 220.91L248.50 220.81L249.00 221.17L249.50 221.07L250.00 221.56L250.50 221.62L251.00 221.90L251.50 221.93L252.00 222.07L252.50 222.20L253.00 222.56L253.50 222.85L254.00 223.17L254.50 222.83L255.00 222.90L255.50 222.80L256.00 222.93L256.50 222.65L257.00 222.50L257.50 222.85L258.00 222.76L258.50 223.31L259.00 223.31L259.50 223.45L260.00 222.90L260.50 223.24L261.00 223.17L261.50 223.29L262.00 223.45L262.50 223.39L263.00 223.69L263.50 223.54L264.00 223.69L264.50 223.40L265.00 223.44L265.50 223.61L266.00 223.04L266.50 223.39L267.00 223.56L267.50 223.67L268.00 223.67L268.50 223.60L269.00 223.60L269.50 223.46L270.00 223.63L270.50 223.65L271.00 223.51L271.50 223.48L272.00 223.56L272.50 223.60L273.00 223.57L273.50 223.68L274.00 223.48L274.50 223.53L275.00 223.56L275.50 223.70L276.00 223.33L276.50 223.56L277.00 223.49L277.50 223.24L278.00 223.56L278.50 223.54L279.00 223.69L279.50 223.77L280.00 223.97L280.50 223.93L281.00 223.97L281.50 223.75L282.00 223.55L282.50 223.71L283.00 223.70L283.50 223.88L284.00 224.02L284.50 224.18L285.00 224.08L285.50 223.94L286.00 224.13L286.50 224.20L287.00 224.25L287.50 224.41L288.00 224.15L288.50 224.28L289.00 224.05L289.50 224.22L290.00 224.06L290.50 224.06L291.00 224.43L291.50 223.97L292.00 224.16L292.50 224.00L293.00 223.97L293.50 224.22L294.00 223.98L294.50 224.07L295.00 224.12L295.50 224.02L296.00 224.45L296.50 224.31L297.00 224.56L297.50 224.36L298.00 224.48L298.50 224.39L299.00 224.55L299.50 224.27L300.00 224.29L300.50 224.52L301.00 224.33L301.50 224.10L302.00 224.18L302.50 224.26L303.00 224.23L303.50 224.33L304.00 224.29L304.50 224.40L305.00 224.18L305.50 224.49L306.00 224.41L306.50 224.41L307.00 224.51L307.50 224.30L308.00 224.48L308.50 224.21L309.00 224.45L309.50 224.52L310.00 224.44L310.50 224.74L311.00 224.68L311.50 224.78L312.00 224.82L312.50 224.43L313.00 224.35L313.50 224.43L314.00 224.72L314.50 224.61L315.00 224.81L315.50 224.55L316.00 224.52L316.50 224.52L317.00 224.50L317.50 224.27L318.00 224.28L318.50 224.65L319.00 224.19L319.50 224.51L320.00 224.83L320.50 224.51L321.00 224.62L321.50 224.73L322.00 224.53L322.50 224.58L323.00 224.22L323.50 224.17L324.00 224.41L324.50 224.32L325.00 224.77L325.50 224.79L326.00 224.77L326.50 224.51L327.00 224.50L327.50 224.50L328.00 224.34L328.50 224.68L329.00 224.92L329.50 224.99L330.00 224.83L330.50 224.76L331.00 225.12L331.50 224.66L332.00 224.79L332.50 224.92L333.00 224.78L333.50 224.98L334.00 225.13L334.50 225.23L335.00 225.06L335.50 224.60L336.00 224.96L336.50 224.83L337.00 224.77L337.50 225.04L338.00 224.84L338.50 225.12L339.00 225.05L339.50 224.88L340.00 224.85L340.50 224.92L341.00 224.94L341.50 225.08L342.00 225.12L342.50 225.30L343.00 225.08L343.50 225.14L344.00 224.97L344.50 225.02L345.00 225.07L345.50 225.27L346.00 224.98L346.50 225.07L347.00 225.02L347.50 225.14L348.00 225.01L348.50 225.01L349.00 224.66L349.50 224.96L350.00 224.93L350.50 225.05L351.00 224.96L351.50 225.24L352.00 225.12L352.50 225.10L353.00 224.74L353.50 224.86L354.00 225.14L354.50 225.03L355.00 224.99L355.50 225.09L356.00 225.30L356.50 225.34L357.00 224.97L357.50 225.22L358.00 225.42L358.50 225.43L359.00 225.11L359.50 225.04L360.00 225.29L360.50 225.13L361.00 225.36L361.50 225.45L362.00 225.17L362.50 225.31L363.00 225.16L363.50 224.97L364.00 225.26L364.50 225.19L365.00 225.07L365.50 225.19L366.00 225.29L366.50 225.38L367.00 225.60L367.50 225.67L368.00 225.92L368.50 225.62L369.00 225.67L369.50 225.83L370.00 225.41L370.50 225.40L371.00 225.57L371.50 225.33L372.00 225.25L372.50 225.35L373.00 225.37L373.50 225.47L374.00 225.19L374.50 225.29L375.00 225.27L375.50 225.32L376.00 225.18L376.50 225.28L377.00 225.18L377.50 225.41L378.00 225.21L378.50 225.35L379.00 225.17L379.50 225.13L380.00 225.33L380.50 225.33L381.00 225.59L381.50 225.62L382.00 225.90" stroke="#5a74a6" clip-path="url(#c_blue)" opacity="0.60"/>
<path d="M43.00 267.44L43.50 267.62L44.00 267.29L44.50 267.13L45.00 267.67L45.50 267.63L46.00 267.60L46.50 267.35L47.00 267.28L47.50 267.38L48.00 267.62L48.50 267.41L49.00 267.65L49.50 267.75L50.00 267.93L50.50 267.52L51.00 267.50L51.50 267.73L52.00 267.99L52.50 267.92L53.00 268.36L53.50 268.41L54.00 267.79L54.50 267.94L55.00 268.27L55.50 268.10L56.00 268.38L56.50 267.82L57.00 268.18L57.50 267.67L58.00 267.91L58.50 268.43L59.00 268.52L59.50 268.11L60.00 267.77L60.50 268.11L61.00 268.29L61.50 268.17L62.00 268.01L62.50 267.87L63.00 267.82L63.50 267.99L64.00 267.84L64.50 268.01L65.00 267.87L65.50 267.58L66.00 267.57L66.50 267.69L67.00 267.91L67.50 267.72L68.00 267.83L68.50 267.67L69.00 267.45L69.50 267.43L70.00 267.67L70.50 267.63L71.00 267.49L71.50 267.49L72.00 267.10L72.50 267.22L73.00 267.09L73.50 267.36L74.00 266.91L74.50 266.76L75.00 266.08L75.50 266.55L76.00 266.48L76.50 266.39L77.00 266.43L77.50 266.00L78.00 266.32L78.50 266.22L79.00 266.76L79.50 266.19L80.00 265.93L80.50 265.84L81.00 265.66L81.50 265.71L82.00 265.64L82.50 265.46L83.00 265.24L83.50 265.21L84.00 263.80L84.50 262.95L85.00 260.29L85.50 253.28L86.00 242.58L86.50 229.55L87.00 221.26L87.00 221.61L87.50 229.17L88.00 242.66L88.50 252.97L89.00 259.21L89.50 262.11L90.00 263.09L90.50 263.71L91.00 264.41L91.50 264.14L92.00 264.41L92.50 263.90L93.00 264.35L93.50 263.47L94.00 264.15L94.50 263.76L95.00 263.82L95.50 263.85L96.00 263.46L96.50 263.58L97.00 263.65L97.50 263.35L98.00 263.49L98.50 262.98L99.00 262.81L99.50 262.92L100.00 262.36L100.50 262.13L101.00 261.82L101.50 261.29L102.00 260.23L102.50 257.25L103.00 251.32L103.50 240.96L104.00 226.28L104.50 211.09L104.80 208.16L105.00 209.38L105.50 222.90L106.00 238.13L106.50 249.64L107.00 255.70L107.50 258.38L108.00 260.22L108.50 260.84L109.00 261.43L109.50 261.30L110.00 262.42L110.50 262.05L111.00 262.66L111.50 262.78L112.00 262.70L112.50 263.50L113.00 263.58L113.50 263.38L114.00 263.60L114.50 263.66L115.00 263.31L115.50 264.25L116.00 263.75L116.50 263.60L117.00 263.31L117.50 263.02L118.00 262.29L118.50 262.43L119.00 261.84L119.50 261.03L120.00 259.99L120.50 260.98L121.00 260.51L121.50 259.31L122.00 259.76L122.50 259.34L123.00 259.31L123.50 258.46L124.00 259.14L124.50 258.57L125.00 258.44L125.50 257.48L126.00 257.21L126.50 255.33L127.00 253.84L127.50 252.44L128.00 251.63L128.50 251.24L129.00 250.53L129.50 250.70L130.00 250.66L130.50 250.86L131.00 251.29L131.50 251.21L132.00 251.06L132.50 250.70L133.00 249.89L133.50 249.71L134.00 250.02L134.50 250.15L135.00 250.91L135.50 252.20L136.00 253.78L136.50 256.20L137.00 257.05L137.50 258.33L138.00 259.57L138.50 260.99L139.00 261.74L139.50 263.13L140.00 263.72L140.50 264.46L141.00 264.17L141.50 264.44L142.00 264.58L142.50 265.16L143.00 264.78L143.50 264.90L144.00 265.12L144.50 264.66L145.00 263.76L145.50 263.16L146.00 262.37L146.50 261.59L147.00 260.92L147.50 259.11L148.00 259.32L148.50 258.15L149.00 256.69L149.50 256.05L150.00 256.03L150.50 255.73L151.00 255.28L151.50 256.16L152.00 257.16L152.50 259.04L153.00 260.67L153.50 262.12L154.00 262.26L154.50 263.47L155.00 264.12L155.50 264.36L156.00 264.60L156.50 264.63L157.00 264.00L157.50 263.23L158.00 262.83L158.50 261.44L159.00 262.01L159.50 262.49L160.00 264.02L160.50 264.84L161.00 265.76L161.50 266.11L162.00 267.14L162.50 267.10L163.00 267.59L163.50 267.59L164.00 267.83L164.50 267.73L165.00 267.56L165.50 266.97L166.00 267.02L166.50 267.03L167.00 267.58L167.50 266.95L168.00 267.05L168.50 266.58L169.00 266.12L169.50 266.03L170.00 266.15L170.50 265.93L171.00 266.03L171.50 265.71L172.00 266.35L172.50 265.98L173.00 265.56L173.50 265.43L174.00 264.89L174.50 264.71L175.00 264.63L175.50 265.51L176.00 264.78L176.50 264.84L177.00 265.60L177.50 265.99L178.00 265.56L178.50 265.58L179.00 265.60L179.50 266.06L180.00 265.80L180.50 266.44L181.00 266.65L181.50 266.96L182.00 267.38L182.50 266.48L183.00 266.80L183.50 267.46L184.00 267.87L184.50 267.31L185.00 266.29L185.50 267.11L186.00 266.63L186.50 266.81L187.00 267.85L187.50 268.11L188.00 267.53L188.50 267.90L189.00 267.91L189.50 267.44L190.00 267.87L190.50 268.34L191.00 268.64L191.50 268.49L192.00 268.07L192.50 268.49L193.00 268.60L193.50 268.37L194.00 268.30L194.50 268.24L195.00 267.94L195.50 267.54L196.00 267.81L196.50 268.24L197.00 267.93L197.50 268.46L198.00 268.34L198.50 267.87L199.00 267.76L199.50 267.71L200.00 267.55L200.50 267.30L201.00 267.47L201.50 267.41L202.00 267.39L202.50 267.35L203.00 267.23L203.50 267.22L204.00 266.90L204.50 267.01L205.00 266.54L205.50 266.83L206.00 266.73L206.50 266.48L207.00 266.07L207.50 266.16L208.00 265.80L208.50 265.93L209.00 266.00L209.50 266.03L210.00 265.99L210.50 265.68L211.00 265.97L211.50 265.75L212.00 265.83L212.50 265.82L213.00 266.03L213.50 265.81L214.00 266.01L214.50 266.36L215.00 266.97L215.50 266.88L216.00 267.21L216.50 267.14L217.00 267.60L217.50 267.64L218.00 267.97L218.50 268.03L219.00 268.42L219.50 268.58L220.00 268.51L220.50 268.39L221.00 268.16L221.50 268.42L222.00 268.30L222.50 268.25L223.00 268.27L223.50 268.15L224.00 268.26L224.50 268.03L225.00 268.31L225.50 267.81L226.00 267.73L226.50 267.92L227.00 267.51L227.50 267.56L228.00 267.35L228.50 267.44L229.00 267.37L229.50 267.17L230.00 267.25L230.50 267.13L231.00 267.12L231.50 267.13L232.00 267.29L232.50 267.42L233.00 267.42L233.50 267.13L234.00 267.52L234.50 267.50L235.00 268.02L235.50 267.69L236.00 267.72L236.50 267.77L237.00 267.97L237.50 267.67L238.00 267.79L238.50 267.80L239.00 267.86L239.50 267.88L240.00 268.10L240.50 267.57L241.00 267.85L241.50 267.49L242.00 267.52L242.50 267.39L243.00 267.17L243.50 267.21L244.00 267.01L244.50 266.98L245.00 266.73L245.50 266.08L246.00 265.94L246.50 265.63L247.00 265.63L247.50 265.57L248.00 265.45L248.50 265.50L249.00 265.41L249.50 265.38L250.00 265.35L250.50 265.78L251.00 265.61L251.50 265.69L252.00 266.17L252.50 266.09L253.00 266.47L253.50 266.21L254.00 266.77L254.50 266.83L255.00 266.96L255.50 267.25L256.00 267.49L256.50 267.54L257.00 267.83L257.50 267.89L258.00 268.00L258.50 268.21L259.00 268.21L259.50 267.89L260.00 268.04L260.50 267.87L261.00 268.07L261.50 268.31L262.00 268.27L262.50 268.23L263.00 268.33L263.50 268.63L264.00 268.67L264.50 268.94L265.00 268.76L265.50 268.62L266.00 268.62L266.50 268.57L267.00 268.56L267.50 268.69L268.00 268.51L268.50 268.69L269.00 268.49L269.50 268.58L270.00 268.36L270.50 268.59L271.00 268.52L271.50 268.49L272.00 268.73L272.50 268.46L273.00 268.58L273.50 268.47L274.00 268.65L274.50 268.45L275.00 268.70L275.50 268.52L276.00 268.64L276.50 268.80L277.00 268.88L277.50 268.45L278.00 268.39L278.50 268.47L279.00 268.41L279.50 268.47L280.00 268.52L280.50 268.63L281.00 268.55L281.50 268.09L282.00 268.36L282.50 268.43L283.00 268.64L283.50 268.50L284.00 268.64L284.50 268.76L285.00 268.81L285.50 268.59L286.00 268.34L286.50 268.61L287.00 268.41L287.50 268.29L288.00 268.40L288.50 268.38L289.00 268.31L289.50 268.55L290.00 268.50L290.50 268.60L291.00 268.45L291.50 268.27L292.00 268.32L292.50 268.25L293.00 268.51L293.50 268.21L294.00 268.35L294.50 268.63L295.00 268.44L295.50 268.59L296.00 268.60L296.50 268.45L297.00 268.51L297.50 268.36L298.00 268.52L298.50 268.59L299.00 268.50L299.50 268.46L300.00 268.59L300.50 268.52L301.00 268.34L301.50 268.41L302.00 268.50L302.50 268.33L303.00 268.34L303.50 268.34L304.00 268.62L304.50 268.21L305.00 268.51L305.50 268.45L306.00 268.49L306.50 268.36L307.00 268.31L307.50 268.57L308.00 268.54L308.50 268.64L309.00 268.49L309.50 268.85L310.00 268.59L310.50 268.69L311.00 268.36L311.50 268.96L312.00 268.56L312.50 268.47L313.00 268.68L313.50 268.62L314.00 268.36L314.50 268.27L315.00 268.63L315.50 268.56L316.00 268.48L316.50 268.32L317.00 268.63L317.50 268.88L318.00 268.58L318.50 268.64L319.00 268.58L319.50 268.64L320.00 268.40L320.50 268.41L321.00 268.34L321.50 268.33L322.00 268.50L322.50 268.73L323.00 268.48L323.50 268.67L324.00 268.70L324.50 268.83L325.00 268.74L325.50 268.64L326.00 268.78L326.50 268.54L327.00 268.54L327.50 268.80L328.00 268.76L328.50 268.90L329.00 268.90L329.50 268.89L330.00 268.84L330.50 268.97L331.00 268.75L331.50 268.86L332.00 268.84L332.50 268.52L333.00 268.31L333.50 268.67L334.00 268.80L334.50 268.64L335.00 268.69L335.50 268.79L336.00 268.94L336.50 268.90L337.00 269.06L337.50 269.10L338.00 269.17L338.50 269.00L339.00 269.02L339.50 269.17L340.00 268.90L340.50 268.76L341.00 268.92L341.50 268.69L342.00 268.84L342.50 268.75L343.00 268.60L343.50 268.75L344.00 268.83L344.50 269.13L345.00 268.88L345.50 268.81L346.00 268.94L346.50 268.82L347.00 268.91L347.50 268.90L348.00 269.12L348.50 268.96L349.00 269.09L349.50 268.98L350.00 268.82L350.50 268.90L351.00 268.82L351.50 269.14L352.00 269.08L352.50 268.91L353.00 268.70L353.50 268.87L354.00 268.93L354.50 268.81L355.00 268.87L355.50 268.97L356.00 268.89L356.50 268.82L357.00 268.77L357.50 268.66L358.00 268.53L358.50 268.75L359.00 268.91L359.50 268.79L360.00 269.09L360.50 269.06L361.00 269.22L361.50 269.26L362.00 269.36L362.50 269.03L363.00 269.01L363.50 268.77L364.00 268.63L364.50 268.85L365.00 268.96L365.50 268.77L366.00 269.45L366.50 269.13L367.00 269.03L367.50 268.98L368.00 269.17L368.50 268.65L369.00 268.56L369.50 269.15L370.00 269.11L370.50 268.88L371.00 268.92L371.50 269.34L372.00 269.43L372.50 269.33L373.00 269.40L373.50 269.03L374.00 269.36L374.50 269.19L375.00 269.45L375.50 269.30L376.00 269.15L376.50 269.13L377.00 269.20L377.50 269.20L378.00 269.26L378.50 269.28L379.00 269.22L379.50 269.11L380.00 269.07L380.50 269.02L381.00 268.87L381.50 268.71L382.00 268.90" stroke="#cf4862" mask="url(#m_red)"/>
<path d="M43.00 267.44L43.50 267.62L44.00 267.29L44.50 267.13L45.00 267.67L45.50 267.63L46.00 267.60L46.50 267.35L47.00 267.28L47.50 267.38L48.00 267.62L48.50 267.41L49.00 267.65L49.50 267.75L50.00 267.93L50.50 267.52L51.00 267.50L51.50 267.73L52.00 267.99L52.50 267.92L53.00 268.36L53.50 268.41L54.00 267.79L54.50 267.94L55.00 268.27L55.50 268.10L56.00 268.38L56.50 267.82L57.00 268.18L57.50 267.67L58.00 267.91L58.50 268.43L59.00 268.52L59.50 268.11L60.00 267.77L60.50 268.11L61.00 268.29L61.50 268.17L62.00 268.01L62.50 267.87L63.00 267.82L63.50 267.99L64.00 267.84L64.50 268.01L65.00 267.87L65.50 267.58L66.00 267.57L66.50 267.69L67.00 267.91L67.50 267.72L68.00 267.83L68.50 267.67L69.00 267.45L69.50 267.43L70.00 267.67L70.50 267.63L71.00 267.49L71.50 267.49L72.00 267.10L72.50 267.22L73.00 267.09L73.50 267.36L74.00 266.91L74.50 266.76L75.00 266.08L75.50 266.55L76.00 266.48L76.50 266.39L77.00 266.43L77.50 266.00L78.00 266.32L78.50 266.22L79.00 266.76L79.50 266.19L80.00 265.93L80.50 265.84L81.00 265.66L81.50 265.71L82.00 265.64L82.50 265.46L83.00 265.24L83.50 265.21L84.00 263.80L84.50 262.95L85.00 260.29L85.50 253.28L86.00 242.58L86.50 229.55L87.00 221.26L87.00 221.61L87.50 229.17L88.00 242.66L88.50 252.97L89.00 259.21L89.50 262.11L90.00 263.09L90.50 263.71L91.00 264.41L91.50 264.14L92.00 264.41L92.50 263.90L93.00 264.35L93.50 263.47L94.00 264.15L94.50 263.76L95.00 263.82L95.50 263.85L96.00 263.46L96.50 263.58L97.00 263.65L97.50 263.35L98.00 263.49L98.50 262.98L99.00 262.81L99.50 262.92L100.00 262.36L100.50 262.13L101.00 261.82L101.50 261.29L102.00 260.23L102.50 257.25L103.00 251.32L103.50 240.96L104.00 226.28L104.50 211.09L104.80 208.16L105.00 209.38L105.50 222.90L106.00 238.13L106.50 249.64L107.00 255.70L107.50 258.38L108.00 260.22L108.50 260.84L109.00 261.43L109.50 261.30L110.00 262.42L110.50 262.05L111.00 262.66L111.50 262.78L112.00 262.70L112.50 263.50L113.00 263.58L113.50 263.38L114.00 263.60L114.50 263.66L115.00 263.31L115.50 264.25L116.00 263.75L116.50 263.60L117.00 263.31L117.50 263.02L118.00 262.29L118.50 262.43L119.00 261.84L119.50 261.03L120.00 259.99L120.50 260.98L121.00 260.51L121.50 259.31L122.00 259.76L122.50 259.34L123.00 259.31L123.50 258.46L124.00 259.14L124.50 258.57L125.00 258.44L125.50 257.48L126.00 257.21L126.50 255.33L127.00 253.84L127.50 252.44L128.00 251.63L128.50 251.24L129.00 250.53L129.50 250.70L130.00 250.66L130.50 250.86L131.00 251.29L131.50 251.21L132.00 251.06L132.50 250.70L133.00 249.89L133.50 249.71L134.00 250.02L134.50 250.15L135.00 250.91L135.50 252.20L136.00 253.78L136.50 256.20L137.00 257.05L137.50 258.33L138.00 259.57L138.50 260.99L139.00 261.74L139.50 263.13L140.00 263.72L140.50 264.46L141.00 264.17L141.50 264.44L142.00 264.58L142.50 265.16L143.00 264.78L143.50 264.90L144.00 265.12L144.50 264.66L145.00 263.76L145.50 263.16L146.00 262.37L146.50 261.59L147.00 260.92L147.50 259.11L148.00 259.32L148.50 258.15L149.00 256.69L149.50 256.05L150.00 256.03L150.50 255.73L151.00 255.28L151.50 256.16L152.00 257.16L152.50 259.04L153.00 260.67L153.50 262.12L154.00 262.26L154.50 263.47L155.00 264.12L155.50 264.36L156.00 264.60L156.50 264.63L157.00 264.00L157.50 263.23L158.00 262.83L158.50 261.44L159.00 262.01L159.50 262.49L160.00 264.02L160.50 264.84L161.00 265.76L161.50 266.11L162.00 267.14L162.50 267.10L163.00 267.59L163.50 267.59L164.00 267.83L164.50 267.73L165.00 267.56L165.50 266.97L166.00 267.02L166.50 267.03L167.00 267.58L167.50 266.95L168.00 267.05L168.50 266.58L169.00 266.12L169.50 266.03L170.00 266.15L170.50 265.93L171.00 266.03L171.50 265.71L172.00 266.35L172.50 265.98L173.00 265.56L173.50 265.43L174.00 264.89L174.50 264.71L175.00 264.63L175.50 265.51L176.00 264.78L176.50 264.84L177.00 265.60L177.50 265.99L178.00 265.56L178.50 265.58L179.00 265.60L179.50 266.06L180.00 265.80L180.50 266.44L181.00 266.65L181.50 266.96L182.00 267.38L182.50 266.48L183.00 266.80L183.50 267.46L184.00 267.87L184.50 267.31L185.00 266.29L185.50 267.11L186.00 266.63L186.50 266.81L187.00 267.85L187.50 268.11L188.00 267.53L188.50 267.90L189.00 267.91L189.50 267.44L190.00 267.87L190.50 268.34L191.00 268.64L191.50 268.49L192.00 268.07L192.50 268.49L193.00 268.60L193.50 268.37L194.00 268.30L194.50 268.24L195.00 267.94L195.50 267.54L196.00 267.81L196.50 268.24L197.00 267.93L197.50 268.46L198.00 268.34L198.50 267.87L199.00 267.76L199.50 267.71L200.00 267.55L200.50 267.30L201.00 267.47L201.50 267.41L202.00 267.39L202.50 267.35L203.00 267.23L203.50 267.22L204.00 266.90L204.50 267.01L205.00 266.54L205.50 266.83L206.00 266.73L206.50 266.48L207.00 266.07L207.50 266.16L208.00 265.80L208.50 265.93L209.00 266.00L209.50 266.03L210.00 265.99L210.50 265.68L211.00 265.97L211.50 265.75L212.00 265.83L212.50 265.82L213.00 266.03L213.50 265.81L214.00 266.01L214.50 266.36L215.00 266.97L215.50 266.88L216.00 267.21L216.50 267.14L217.00 267.60L217.50 267.64L218.00 267.97L218.50 268.03L219.00 268.42L219.50 268.58L220.00 268.51L220.50 268.39L221.00 268.16L221.50 268.42L222.00 268.30L222.50 268.25L223.00 268.27L223.50 268.15L224.00 268.26L224.50 268.03L225.00 268.31L225.50 267.81L226.00 267.73L226.50 267.92L227.00 267.51L227.50 267.56L228.00 267.35L228.50 267.44L229.00 267.37L229.50 267.17L230.00 267.25L230.50 267.13L231.00 267.12L231.50 267.13L232.00 267.29L232.50 267.42L233.00 267.42L233.50 267.13L234.00 267.52L234.50 267.50L235.00 268.02L235.50 267.69L236.00 267.72L236.50 267.77L237.00 267.97L237.50 267.67L238.00 267.79L238.50 267.80L239.00 267.86L239.50 267.88L240.00 268.10L240.50 267.57L241.00 267.85L241.50 267.49L242.00 267.52L242.50 267.39L243.00 267.17L243.50 267.21L244.00 267.01L244.50 266.98L245.00 266.73L245.50 266.08L246.00 265.94L246.50 265.63L247.00 265.63L247.50 265.57L248.00 265.45L248.50 265.50L249.00 265.41L249.50 265.38L250.00 265.35L250.50 265.78L251.00 265.61L251.50 265.69L252.00 266.17L252.50 266.09L253.00 266.47L253.50 266.21L254.00 266.77L254.50 266.83L255.00 266.96L255.50 267.25L256.00 267.49L256.50 267.54L257.00 267.83L257.50 267.89L258.00 268.00L258.50 268.21L259.00 268.21L259.50 267.89L260.00 268.04L260.50 267.87L261.00 268.07L261.50 268.31L262.00 268.27L262.50 268.23L263.00 268.33L263.50 268.63L264.00 268.67L264.50 268.94L265.00 268.76L265.50 268.62L266.00 268.62L266.50 268.57L267.00 268.56L267.50 268.69L268.00 268.51L268.50 268.69L269.00 268.49L269.50 268.58L270.00 268.36L270.50 268.59L271.00 268.52L271.50 268.49L272.00 268.73L272.50 268.46L273.00 268.58L273.50 268.47L274.00 268.65L274.50 268.45L275.00 268.70L275.50 268.52L276.00 268.64L276.50 268.80L277.00 268.88L277.50 268.45L278.00 268.39L278.50 268.47L279.00 268.41L279.50 268.47L280.00 268.52L280.50 268.63L281.00 268.55L281.50 268.09L282.00 268.36L282.50 268.43L283.00 268.64L283.50 268.50L284.00 268.64L284.50 268.76L285.00 268.81L285.50 268.59L286.00 268.34L286.50 268.61L287.00 268.41L287.50 268.29L288.00 268.40L288.50 268.38L289.00 268.31L289.50 268.55L290.00 268.50L290.50 268.60L291.00 268.45L291.50 268.27L292.00 268.32L292.50 268.25L293.00 268.51L293.50 268.21L294.00 268.35L294.50 268.63L295.00 268.44L295.50 268.59L296.00 268.60L296.50 268.45L297.00 268.51L297.50 268.36L298.00 268.52L298.50 268.59L299.00 268.50L299.50 268.46L300.00 268.59L300.50 268.52L301.00 268.34L301.50 268.41L302.00 268.50L302.50 268.33L303.00 268.34L303.50 268.34L304.00 268.62L304.50 268.21L305.00 268.51L305.50 268.45L306.00 268.49L306.50 268.36L307.00 268.31L307.50 268.57L308.00 268.54L308.50 268.64L309.00 268.49L309.50 268.85L310.00 268.59L310.50 268.69L311.00 268.36L311.50 268.96L312.00 268.56L312.50 268.47L313.00 268.68L313.50 268.62L314.00 268.36L314.50 268.27L315.00 268.63L315.50 268.56L316.00 268.48L316.50 268.32L317.00 268.63L317.50 268.88L318.00 268.58L318.50 268.64L319.00 268.58L319.50 268.64L320.00 268.40L320.50 268.41L321.00 268.34L321.50 268.33L322.00 268.50L322.50 268.73L323.00 268.48L323.50 268.67L324.00 268.70L324.50 268.83L325.00 268.74L325.50 268.64L326.00 268.78L326.50 268.54L327.00 268.54L327.50 268.80L328.00 268.76L328.50 268.90L329.00 268.90L329.50 268.89L330.00 268.84L330.50 268.97L331.00 268.75L331.50 268.86L332.00 268.84L332.50 268.52L333.00 268.31L333.50 268.67L334.00 268.80L334.50 268.64L335.00 268.69L335.50 268.79L336.00 268.94L336.50 268.90L337.00 269.06L337.50 269.10L338.00 269.17L338.50 269.00L339.00 269.02L339.50 269.17L340.00 268.90L340.50 268.76L341.00 268.92L341.50 268.69L342.00 268.84L342.50 268.75L343.00 268.60L343.50 268.75L344.00 268.83L344.50 269.13L345.00 268.88L345.50 268.81L346.00 268.94L346.50 268.82L347.00 268.91L347.50 268.90L348.00 269.12L348.50 268.96L349.00 269.09L349.50 268.98L350.00 268.82L350.50 268.90L351.00 268.82L351.50 269.14L352.00 269.08L352.50 268.91L353.00 268.70L353.50 268.87L354.00 268.93L354.50 268.81L355.00 268.87L355.50 268.97L356.00 268.89L356.50 268.82L357.00 268.77L357.50 268.66L358.00 268.53L358.50 268.75L359.00 268.91L359.50 268.79L360.00 269.09L360.50 269.06L361.00 269.22L361.50 269.26L362.00 269.36L362.50 269.03L363.00 269.01L363.50 268.77L364.00 268.63L364.50 268.85L365.00 268.96L365.50 268.77L366.00 269.45L366.50 269.13L367.00 269.03L367.50 268.98L368.00 269.17L368.50 268.65L369.00 268.56L369.50 269.15L370.00 269.11L370.50 268.88L371.00 268.92L371.50 269.34L372.00 269.43L372.50 269.33L373.00 269.40L373.50 269.03L374.00 269.36L374.50 269.19L375.00 269.45L375.50 269.30L376.00 269.15L376.50 269.13L377.00 269.20L377.50 269.20L378.00 269.26L378.50 269.28L379.00 269.22L379.50 269.11L380.00 269.07L380.50 269.02L381.00 268.87L381.50 268.71L382.00 268.90" stroke="#cf4862" clip-path="url(#c_red)" opacity="0.70"/>
</g>
<g fill="none" stroke-width="1" stroke-linejoin="round">
<path d="M458.60 88.86L459.02 83.83L459.44 83.08L459.86 78.68L460.28 84.16L460.70 83.74L461.12 82.66L461.54 83.79L461.96 83.10L462.38 79.52L462.80 79.53L463.22 79.74L463.64 81.91L464.06 81.40L464.48 77.54L464.90 78.02L465.32 81.65L465.74 83.16L466.16 79.18L466.58 78.19L467.00 82.23L467.42 79.31L467.84 81.94L468.26 82.79L468.68 80.63L469.10 79.62L469.52 81.81L469.94 79.41L470.36 80.97L470.78 80.53L471.20 80.71L471.62 80.32L472.04 81.42L472.46 81.44L472.88 83.33L473.30 84.83L473.72 85.91L474.14 88.82L474.56 83.59L474.98 89.80L475.40 86.18L475.82 83.82L476.24 85.81L476.66 85.25L477.08 87.34L477.50 82.38L477.92 84.06L478.34 83.74L478.76 80.13L479.18 81.85L479.60 86.43L480.02 86.97L480.44 87.16L480.86 85.66L481.28 84.89L481.70 84.56L482.12 87.57L482.54 82.89L482.96 84.77L483.38 85.30L483.80 81.18L484.22 88.07L484.64 83.79L485.06 86.58L485.48 90.84L485.90 84.65L486.32 85.43L486.74 89.25L487.16 84.67L487.58 85.58L488.00 87.56L488.42 87.69L488.84 87.44L489.26 87.06L489.68 88.78L490.10 87.64L490.52 87.31L490.94 84.78L491.36 85.07L491.78 82.99L492.20 87.95L492.62 82.26L493.04 86.77L493.46 87.62L493.88 80.58L494.30 80.75L494.72 80.21L495.14 82.02L495.56 77.24L495.98 76.45L496.40 72.85L496.82 69.59L497.24 67.82L497.66 57.09L498.08 55.16L498.20 54.65L498.50 56.35L498.92 57.06L499.34 67.43L499.76 70.83L500.18 75.64L500.60 75.74L501.02 73.72L501.44 76.91L501.86 81.34L502.28 81.42L502.70 82.02L503.12 86.39L503.54 87.34L503.96 82.76L504.38 86.33L504.80 77.05L505.22 76.72L505.64 82.62L506.06 79.97L506.48 81.82L506.90 80.92L507.32 78.67L507.74 80.35L508.16 78.81L508.58 74.98L509.00 79.07L509.42 78.54L509.84 82.08L510.26 75.75L510.68 77.62L511.10 76.44L511.52 77.19L511.94 80.52L512.36 78.12L512.78 75.85L513.20 76.61L513.62 77.85L514.04 73.26L514.46 74.11L514.88 78.05L515.30 76.07L515.72 73.99L516.14 73.85L516.56 73.94L516.98 71.34L517.40 76.69L517.82 74.80L518.24 74.49L518.66 70.94L519.08 72.12L519.50 75.16L519.92 74.53L520.34 73.00L520.76 74.83L521.18 75.43L521.60 71.12L522.02 71.39L522.44 70.74L522.86 70.31L523.28 75.62L523.70 75.81L524.12 76.95L524.54 75.28L524.96 75.52L525.38 77.72" stroke="#7878b2"/>
<path d="M458.60 127.55L459.02 123.88L459.44 124.85L459.86 121.28L460.28 125.85L460.70 120.89L461.12 123.64L461.54 122.62L461.96 119.91L462.38 127.48L462.80 119.88L463.22 121.75L463.64 123.10L464.06 117.31L464.48 122.40L464.90 118.60L465.32 120.26L465.74 115.93L466.16 115.14L466.58 119.90L467.00 119.16L467.42 118.92L467.84 120.18L468.26 120.15L468.68 116.97L469.10 115.56L469.52 117.26L469.94 117.77L470.36 117.15L470.78 120.12L471.20 121.03L471.62 122.62L472.04 123.96L472.46 124.09L472.88 125.37L473.30 127.07L473.72 125.29L474.14 125.98L474.56 128.20L474.98 126.50L475.40 127.24L475.82 128.30L476.24 131.36L476.66 128.77L477.08 126.51L477.50 126.26L477.92 127.27L478.34 132.31L478.76 121.83L479.18 129.79L479.60 128.82L480.02 130.32L480.44 124.90L480.86 130.78L481.28 127.95L481.70 125.99L482.12 127.08L482.54 125.56L482.96 127.49L483.38 126.46L483.80 128.99L484.22 127.74L484.64 127.28L485.06 129.55L485.48 129.05L485.90 128.60L486.32 124.15L486.74 129.67L487.16 125.13L487.58 125.81L488.00 128.85L488.42 130.50L488.84 133.17L489.26 127.84L489.68 134.60L490.10 135.39L490.52 130.88L490.94 130.23L491.36 129.18L491.78 128.08L492.20 125.12L492.62 124.21L493.04 126.50L493.46 126.52L493.88 130.16L494.30 122.99L494.72 119.39L495.14 122.89L495.56 120.16L495.98 120.19L496.40 116.74L496.82 112.81L497.24 110.59L497.66 109.91L498.08 105.10L498.50 99.82L498.60 103.92L498.92 99.55L499.34 104.07L499.76 108.36L500.18 107.16L500.60 110.13L501.02 114.37L501.44 116.38L501.86 118.65L502.28 120.05L502.70 119.58L503.12 120.08L503.54 127.86L503.96 119.06L504.38 122.11L504.80 116.87L505.22 120.10L505.64 119.33L506.06 117.54L506.48 114.36L506.90 111.63L507.32 115.34L507.74 109.72L508.16 109.47L508.58 114.31L509.00 113.87L509.42 109.89L509.84 107.91L510.26 106.21L510.68 107.61L511.10 105.65L511.52 103.05L511.94 104.23L512.36 105.84L512.78 102.08L513.20 103.02L513.62 105.52L514.04 108.53L514.46 104.70L514.88 104.63L515.30 108.93L515.72 102.01L516.14 103.38L516.56 107.47L516.98 107.84L517.40 107.96L517.82 101.91L518.24 108.85L518.66 109.11L519.08 108.24L519.50 109.86L519.92 111.59L520.34 109.16L520.76 106.68L521.18 104.68L521.60 108.98L522.02 107.45L522.44 108.20L522.86 107.85L523.28 111.31L523.70 113.00L524.12 112.65L524.54 109.30L524.96 113.66L525.38 112.26" stroke="#4fb285"/>
<path d="M458.60 160.37L459.02 162.73L459.44 160.86L459.86 162.06L460.28 163.62L460.70 161.68L461.12 162.81L461.54 160.85L461.96 161.99L462.38 156.97L462.80 156.96L463.22 156.23L463.64 160.45L464.06 157.99L464.48 161.05L464.90 159.59L465.32 158.58L465.74 163.39L466.16 159.79L466.58 158.37L467.00 156.36L467.42 160.42L467.84 159.77L468.26 155.58L468.68 158.14L469.10 159.36L469.52 155.97L469.94 159.11L470.36 162.89L470.78 156.98L471.20 162.08L471.62 165.58L472.04 159.96L472.46 160.64L472.88 161.89L473.30 163.15L473.72 163.85L474.14 160.55L474.56 162.87L474.98 164.51L475.40 163.79L475.82 166.78L476.24 163.24L476.66 164.46L477.08 169.38L477.50 164.87L477.92 162.80L478.34 163.73L478.76 162.85L479.18 164.63L479.60 163.87L480.02 162.06L480.44 161.82L480.86 162.03L481.28 166.42L481.70 168.12L482.12 163.33L482.54 164.72L482.96 164.10L483.38 161.68L483.80 162.59L484.22 161.95L484.64 159.23L485.06 161.94L485.48 164.65L485.90 165.88L486.32 163.74L486.74 163.75L487.16 165.61L487.58 169.17L488.00 162.85L488.42 162.67L488.84 163.33L489.26 164.87L489.68 162.40L490.10 166.07L490.52 163.44L490.94 167.26L491.36 165.22L491.78 164.35L492.20 167.37L492.62 163.38L493.04 164.74L493.46 168.29L493.88 168.64L494.30 166.37L494.72 159.70L495.14 163.91L495.56 161.25L495.98 158.63L496.40 153.86L496.82 158.67L497.24 158.78L497.66 154.07L498.08 153.81L498.50 148.91L498.60 150.70L498.92 149.31L499.34 149.68L499.76 152.74L500.18 152.98L500.60 153.65L501.02 154.96L501.44 155.82L501.86 156.29L502.28 158.40L502.70 155.74L503.12 160.17L503.54 157.11L503.96 161.41L504.38 162.52L504.80 157.86L505.22 160.88L505.64 164.11L506.06 161.79L506.48 158.57L506.90 158.49L507.32 158.70L507.74 157.06L508.16 157.80L508.58 155.51L509.00 156.93L509.42 155.14L509.84 152.20L510.26 152.34L510.68 153.17L511.10 156.03L511.52 153.46L511.94 156.11L512.36 151.04L512.78 153.52L513.20 151.78L513.62 154.31L514.04 153.73L514.46 152.48L514.88 149.88L515.30 150.89L515.72 151.35L516.14 154.86L516.56 152.04L516.98 154.22L517.40 154.76L517.82 150.87L518.24 151.24L518.66 147.21L519.08 150.84L519.50 153.21L519.92 150.01L520.34 153.15L520.76 154.34L521.18 154.11L521.60 153.09L522.02 155.02L522.44 152.87L522.86 153.44L523.28 158.84L523.70 152.51L524.12 152.58L524.54 155.14L524.96 155.86L525.38 157.06" stroke="#e6c636"/>
<path d="M458.60 200.22L459.02 196.62L459.44 196.13L459.86 195.08L460.28 190.78L460.70 194.88L461.12 191.05L461.54 194.64L461.96 192.53L462.38 195.82L462.80 193.05L463.22 193.47L463.64 190.55L464.06 194.40L464.48 192.39L464.90 193.97L465.32 194.68L465.74 193.95L466.16 192.09L466.58 188.14L467.00 189.75L467.42 194.08L467.84 194.93L468.26 195.28L468.68 191.76L469.10 191.57L469.52 195.20L469.94 196.37L470.36 194.10L470.78 193.38L471.20 190.71L471.62 192.58L472.04 196.53L472.46 192.70L472.88 193.70L473.30 195.01L473.72 195.22L474.14 192.13L474.56 196.23L474.98 196.22L475.40 197.70L475.82 197.75L476.24 198.43L476.66 196.88L477.08 201.89L477.50 198.34L477.92 202.49L478.34 202.70L478.76 200.22L479.18 197.71L479.60 195.46L480.02 196.69L480.44 198.27L480.86 198.65L481.28 196.62L481.70 196.58L482.12 203.19L482.54 197.79L482.96 194.23L483.38 197.76L483.80 195.24L484.22 192.52L484.64 197.61L485.06 195.91L485.48 198.16L485.90 201.61L486.32 197.94L486.74 196.27L487.16 201.30L487.58 193.58L488.00 196.11L488.42 201.49L488.84 203.00L489.26 199.56L489.68 199.37L490.10 202.61L490.52 202.54L490.94 202.66L491.36 201.39L491.78 199.18L492.20 199.91L492.62 199.69L493.04 199.50L493.46 198.62L493.88 199.10L494.30 195.22L494.72 198.46L495.14 197.38L495.56 191.07L495.98 187.99L496.40 189.83L496.82 187.84L497.24 183.53L497.60 183.91L497.66 180.63L498.08 180.96L498.50 189.49L498.92 188.03L499.34 190.58L499.76 188.44L500.18 194.75L500.60 196.83L501.02 198.52L501.44 199.84L501.86 197.72L502.28 194.57L502.70 199.12L503.12 196.94L503.54 198.07L503.96 195.51L504.38 195.21L504.80 192.02L505.22 190.61L505.64 191.22L506.06 190.44L506.48 191.97L506.90 183.90L507.32 189.83L507.74 188.76L508.16 191.74L508.58 186.80L509.00 186.04L509.42 187.34L509.84 188.46L510.26 183.92L510.68 185.80L511.10 189.96L511.52 188.96L511.94 188.07L512.36 191.85L512.78 184.48L513.20 187.38L513.62 186.36L514.04 186.46L514.46 183.94L514.88 185.99L515.30 190.61L515.72 186.19L516.14 185.37L516.56 187.49L516.98 184.79L517.40 187.99L517.82 181.26L518.24 181.75L518.66 179.56L519.08 181.70L519.50 179.35L519.92 185.83L520.34 183.21L520.76 184.39L521.18 184.38L521.60 184.31L522.02 184.31L522.44 182.30L522.86 188.98L523.28 185.99L523.70 191.35L524.12 189.91L524.54 186.67L524.96 189.24L525.38 190.26" stroke="#5580b8"/>
<path d="M458.60 244.23L459.02 244.42L459.44 241.62L459.86 239.70L460.28 240.37L460.70 235.85L461.12 238.52L461.54 238.38L461.96 240.22L462.38 239.53L462.80 239.33L463.22 239.97L463.64 239.51L464.06 238.61L464.48 235.56L464.90 236.85L465.32 235.21L465.74 238.25L466.16 235.46L466.58 233.38L467.00 232.76L467.42 230.99L467.84 233.92L468.26 231.73L468.68 234.34L469.10 229.70L469.52 230.90L469.94 236.75L470.36 237.56L470.78 237.56L471.20 231.27L471.62 232.27L472.04 232.67L472.46 232.07L472.88 237.11L473.30 235.77L473.72 237.34L474.14 236.88L474.56 236.87L474.98 243.75L475.40 240.91L475.82 238.14L476.24 242.54L476.66 239.37L477.08 240.97L477.50 245.16L477.92 241.68L478.34 243.29L478.76 243.57L479.18 247.94L479.60 249.02L480.02 245.60L480.44 249.54L480.86 243.50L481.28 245.61L481.70 249.06L482.12 245.58L482.54 246.11L482.96 245.47L483.38 245.19L483.80 243.64L484.22 239.49L484.64 241.01L485.06 240.19L485.48 242.81L485.90 238.36L486.32 240.32L486.74 244.17L487.16 242.21L487.58 246.27L488.00 241.48L488.42 236.24L488.84 245.25L489.26 243.73L489.68 242.98L490.10 241.69L490.52 244.43L490.94 246.95L491.36 247.77L491.78 248.30L492.20 249.93L492.62 249.65L493.04 246.79L493.46 249.18L493.88 249.63L494.30 252.53L494.72 248.28L495.14 245.29L495.56 248.59L495.98 246.16L496.40 242.36L496.82 239.30L497.24 243.90L497.66 236.61L498.08 237.89L498.50 239.54L498.92 236.37L499.34 237.64L499.76 239.02L500.18 236.94L500.60 235.14L501.02 236.75L501.44 238.35L501.86 242.70L502.28 239.18L502.70 245.19L503.12 240.54L503.54 244.53L503.96 245.29L504.38 241.96L504.80 238.42L505.22 240.95L505.64 238.99L506.06 237.79L506.48 234.42L506.90 233.10L507.32 232.42L507.74 236.66L508.16 232.02L508.58 231.20L509.00 229.30L509.42 230.02L509.84 229.15L510.26 227.67L510.68 228.17L511.10 226.94L511.52 227.44L511.94 227.03L512.36 225.93L512.78 228.11L513.20 228.07L513.62 221.08L514.04 226.80L514.46 227.55L514.88 227.51L515.30 230.23L515.72 226.89L516.14 224.04L516.56 222.24L516.98 224.56L517.40 219.58L517.82 222.04L518.24 221.19L518.66 220.90L519.08 220.71L519.50 218.64L519.92 218.04L520.34 220.35L520.76 219.03L521.18 224.32L521.60 222.85L522.02 220.89L522.44 224.47L522.86 223.62L523.28 225.10L523.70 228.52L524.12 227.83L524.54 224.26L524.96 227.76L525.38 225.97" stroke="#da3a3c"/>
<path d="M547.10 75.96L547.52 75.75L547.94 77.45L548.36 74.34L548.78 77.09L549.20 74.11L549.62 76.56L550.04 76.78L550.46 78.85L550.88 77.25L551.30 76.00L551.72 78.44L552.14 78.88L552.56 75.47L552.98 77.67L553.40 76.60L553.82 77.40L554.24 77.74L554.66 75.65L555.08 77.56L555.50 76.43L555.92 76.39L556.34 77.32L556.76 75.40L557.18 75.88L557.60 78.51L558.02 79.14L558.44 79.29L558.86 77.58L559.28 78.95L559.70 79.93L560.12 79.30L560.54 75.53L560.96 75.34L561.38 78.54L561.80 79.77L562.22 77.92L562.64 79.70L563.06 78.40L563.48 78.02L563.90 77.64L564.32 77.05L564.74 76.26L565.16 79.41L565.58 78.11L566.00 76.27L566.42 76.62L566.84 75.70L567.26 77.72L567.68 74.64L568.10 76.12L568.52 77.75L568.94 77.82L569.36 77.91L569.78 74.93L570.20 77.16L570.62 75.70L571.04 77.40L571.46 75.31L571.88 77.90L572.30 76.24L572.72 76.45L573.14 74.86L573.56 74.81L573.98 74.22L574.40 75.95L574.82 72.84L575.24 72.44L575.66 73.72L576.08 71.52L576.50 69.03L576.92 68.33L577.34 63.49L577.76 62.03L578.18 64.43L578.20 67.20L578.60 67.04L579.02 69.61L579.44 69.02L579.86 69.66L580.28 73.66L580.70 71.35L581.12 69.73L581.54 75.10L581.96 76.68L582.38 76.60L582.80 78.51L583.22 77.74L583.64 76.71L584.06 75.05L584.48 76.43L584.90 74.42L585.32 75.87L585.74 79.11L586.16 76.38L586.58 77.14L587.00 75.79L587.42 80.21L587.84 74.03L588.26 75.51L588.68 78.27L589.10 76.17L589.52 76.08L589.94 77.91L590.36 78.21L590.78 78.32L591.20 76.18L591.62 78.96L592.04 76.24L592.46 77.02L592.88 77.16L593.30 78.71L593.72 77.91L594.14 76.84L594.56 78.37L594.98 76.87L595.40 77.81L595.82 78.14L596.24 77.85L596.66 77.76L597.08 76.91L597.50 80.10L597.92 75.54L598.34 78.71L598.76 78.14L599.18 78.07L599.60 76.55L600.02 78.90L600.44 77.99L600.86 80.79L601.28 78.56L601.70 78.09L602.12 77.74L602.54 80.78L602.96 80.43L603.38 79.10L603.80 81.95L604.22 79.61L604.64 78.63L605.06 79.76L605.48 77.35L605.90 79.02L606.32 77.45L606.74 79.85L607.16 80.22L607.58 79.25L608.00 80.93L608.42 78.46L608.84 79.94L609.26 79.36L609.68 77.99L610.10 80.25L610.52 81.94L610.94 83.64L611.36 79.74L611.78 80.47L612.20 82.38L612.62 79.07L613.04 82.47L613.46 78.18L613.88 78.51L614.30 79.34" stroke="#7878b2"/>
<path d="M547.10 115.11L547.52 113.10L547.94 117.09L548.36 115.33L548.78 114.85L549.20 114.38L549.62 116.52L550.04 113.73L550.46 115.96L550.88 114.21L551.30 115.54L551.72 115.40L552.14 116.69L552.56 117.11L552.98 114.71L553.40 117.57L553.82 117.14L554.24 117.72L554.66 117.96L555.08 113.53L555.50 118.74L555.92 113.54L556.34 115.05L556.76 116.81L557.18 117.36L557.60 117.44L558.02 117.46L558.44 117.74L558.86 115.19L559.28 116.43L559.70 119.11L560.12 112.15L560.54 115.80L560.96 115.96L561.38 115.47L561.80 116.41L562.22 116.32L562.64 115.61L563.06 115.76L563.48 113.76L563.90 116.28L564.32 114.28L564.74 113.78L565.16 118.31L565.58 113.91L566.00 114.39L566.42 111.95L566.84 115.24L567.26 113.54L567.68 113.42L568.10 115.07L568.52 114.99L568.94 113.20L569.36 115.16L569.78 114.79L570.20 113.95L570.62 113.05L571.04 115.27L571.46 112.20L571.88 114.62L572.30 113.38L572.72 111.10L573.14 111.53L573.56 116.83L573.98 110.39L574.40 113.01L574.82 111.62L575.24 111.43L575.66 109.66L576.08 109.20L576.50 107.53L576.92 104.33L577.34 101.52L577.76 102.71L577.80 103.49L578.18 104.48L578.60 106.52L579.02 105.99L579.44 106.84L579.86 109.30L580.28 111.63L580.70 113.52L581.12 114.26L581.54 114.23L581.96 111.94L582.38 113.85L582.80 115.50L583.22 116.00L583.64 117.85L584.06 115.08L584.48 118.44L584.90 113.62L585.32 116.66L585.74 118.19L586.16 117.99L586.58 119.76L587.00 118.67L587.42 118.81L587.84 119.31L588.26 117.64L588.68 121.03L589.10 118.60L589.52 120.41L589.94 119.60L590.36 118.11L590.78 117.81L591.20 117.63L591.62 116.85L592.04 120.33L592.46 115.98L592.88 117.56L593.30 118.68L593.72 117.93L594.14 118.71L594.56 114.98L594.98 117.19L595.40 117.86L595.82 119.75L596.24 116.75L596.66 117.47L597.08 120.03L597.50 117.65L597.92 117.57L598.34 116.85L598.76 118.33L599.18 114.02L599.60 115.70L600.02 115.94L600.44 116.82L600.86 117.13L601.28 114.18L601.70 117.26L602.12 116.26L602.54 121.33L602.96 116.90L603.38 118.21L603.80 115.49L604.22 115.57L604.64 114.71L605.06 117.93L605.48 118.95L605.90 115.25L606.32 117.87L606.74 117.76L607.16 118.69L607.58 115.77L608.00 118.79L608.42 115.11L608.84 117.08L609.26 116.38L609.68 115.98L610.10 117.88L610.52 116.89L610.94 120.29L611.36 116.41L611.78 115.58L612.20 118.13L612.62 116.37L613.04 115.24L613.46 117.29L613.88 117.54L614.30 113.75" stroke="#4fb285"/>
<path d="M547.10 152.07L547.52 151.13L547.94 150.03L548.36 152.03L548.78 152.12L549.20 149.66L549.62 150.49L550.04 149.28L550.46 148.63L550.88 153.04L551.30 150.57L551.72 152.28L552.14 151.66L552.56 151.54L552.98 149.66L553.40 150.05L553.82 152.40L554.24 153.28L554.66 149.17L555.08 149.92L555.50 151.02L555.92 152.61L556.34 151.64L556.76 152.53L557.18 151.72L557.60 150.21L558.02 151.48L558.44 153.32L558.86 151.99L559.28 149.44L559.70 153.12L560.12 151.78L560.54 151.96L560.96 154.39L561.38 151.17L561.80 150.65L562.22 148.17L562.64 151.66L563.06 151.86L563.48 151.45L563.90 151.60L564.32 152.75L564.74 151.96L565.16 151.38L565.58 150.33L566.00 150.46L566.42 151.92L566.84 150.64L567.26 150.78L567.68 150.09L568.10 150.69L568.52 151.11L568.94 151.08L569.36 150.59L569.78 150.00L570.20 147.88L570.62 151.06L571.04 148.74L571.46 149.80L571.88 151.61L572.30 150.14L572.72 148.70L573.14 150.47L573.56 148.74L573.98 148.46L574.40 150.59L574.82 149.78L575.24 153.07L575.66 146.20L576.08 147.15L576.50 146.56L576.92 146.67L577.34 143.31L577.76 145.09L577.80 142.85L578.18 141.75L578.60 143.72L579.02 145.04L579.44 146.28L579.86 146.67L580.28 147.54L580.70 149.69L581.12 150.13L581.54 151.78L581.96 148.29L582.38 148.66L582.80 153.58L583.22 151.71L583.64 152.16L584.06 150.83L584.48 152.86L584.90 152.39L585.32 152.65L585.74 154.00L586.16 150.86L586.58 152.91L587.00 150.78L587.42 153.73L587.84 152.14L588.26 155.94L588.68 151.30L589.10 156.10L589.52 152.74L589.94 151.70L590.36 154.10L590.78 154.09L591.20 152.64L591.62 151.94L592.04 150.33L592.46 153.05L592.88 153.45L593.30 150.32L593.72 153.69L594.14 155.87L594.56 151.31L594.98 154.65L595.40 154.27L595.82 152.72L596.24 153.95L596.66 151.72L597.08 153.93L597.50 155.39L597.92 153.05L598.34 152.87L598.76 150.93L599.18 156.80L599.60 156.47L600.02 153.42L600.44 154.42L600.86 153.84L601.28 155.63L601.70 151.31L602.12 154.23L602.54 149.73L602.96 154.09L603.38 152.00L603.80 154.97L604.22 154.33L604.64 152.13L605.06 152.03L605.48 151.01L605.90 154.45L606.32 154.02L606.74 151.49L607.16 150.29L607.58 153.16L608.00 152.50L608.42 152.13L608.84 153.64L609.26 154.40L609.68 153.06L610.10 153.65L610.52 152.64L610.94 153.16L611.36 152.53L611.78 154.47L612.20 153.56L612.62 152.66L613.04 153.09L613.46 152.57L613.88 152.74L614.30 153.87" stroke="#e6c636"/>
<path d="M547.10 188.24L547.52 185.13L547.94 185.80L548.36 184.97L548.78 184.66L549.20 184.33L549.62 187.01L550.04 186.59L550.46 184.33L550.88 186.97L551.30 188.02L551.72 190.06L552.14 188.50L552.56 187.52L552.98 186.52L553.40 188.10L553.82 188.79L554.24 187.84L554.66 186.32L555.08 187.22L555.50 184.69L555.92 187.51L556.34 189.05L556.76 186.01L557.18 186.35L557.60 187.91L558.02 186.05L558.44 188.81L558.86 186.87L559.28 188.00L559.70 186.29L560.12 187.82L560.54 189.57L560.96 185.14L561.38 188.65L561.80 183.34L562.22 186.10L562.64 186.96L563.06 184.92L563.48 186.35L563.90 187.54L564.32 186.26L564.74 183.39L565.16 187.02L565.58 187.30L566.00 185.93L566.42 185.43L566.84 185.85L567.26 183.78L567.68 185.58L568.10 188.79L568.52 187.78L568.94 187.12L569.36 185.31L569.78 185.46L570.20 186.66L570.62 185.68L571.04 185.75L571.46 184.73L571.88 186.17L572.30 184.83L572.72 185.86L573.14 187.45L573.56 183.40L573.98 186.66L574.40 183.94L574.82 181.91L575.24 183.96L575.66 183.69L576.08 186.53L576.50 185.74L576.92 186.23L577.34 179.39L577.76 174.82L578.10 173.19L578.18 175.42L578.60 178.62L579.02 182.26L579.44 183.24L579.86 188.40L580.28 183.21L580.70 185.13L581.12 185.43L581.54 186.67L581.96 184.21L582.38 188.21L582.80 186.33L583.22 185.37L583.64 185.98L584.06 186.86L584.48 186.55L584.90 188.88L585.32 185.96L585.74 188.11L586.16 190.02L586.58 187.54L587.00 189.11L587.42 189.17L587.84 185.28L588.26 189.69L588.68 187.54L589.10 189.16L589.52 189.77L589.94 188.74L590.36 188.43L590.78 186.00L591.20 188.72L591.62 187.72L592.04 188.10L592.46 188.65L592.88 185.75L593.30 188.90L593.72 189.69L594.14 187.75L594.56 185.92L594.98 191.21L595.40 189.12L595.82 188.97L596.24 188.48L596.66 188.05L597.08 187.55L597.50 188.15L597.92 188.61L598.34 187.64L598.76 187.69L599.18 189.20L599.60 186.65L600.02 186.22L600.44 186.37L600.86 186.28L601.28 190.18L601.70 188.04L602.12 190.13L602.54 189.84L602.96 191.58L603.38 190.20L603.80 190.45L604.22 188.40L604.64 186.17L605.06 189.89L605.48 190.46L605.90 188.16L606.32 188.21L606.74 188.36L607.16 187.60L607.58 190.34L608.00 188.43L608.42 189.28L608.84 188.96L609.26 187.19L609.68 191.22L610.10 188.34L610.52 187.70L610.94 190.79L611.36 189.45L611.78 188.26L612.20 187.36L612.62 186.55L613.04 187.83L613.46 190.18L613.88 187.78L614.30 190.71" stroke="#5580b8"/>
<path d="M547.10 228.02L547.52 228.81L547.94 226.78L548.36 226.73L548.78 226.07L549.20 226.64L549.62 225.92L550.04 228.72L550.46 224.71L550.88 227.85L551.30 226.57L551.72 227.49L552.14 230.20L552.56 226.52L552.98 227.83L553.40 226.32L553.82 228.97L554.24 226.69L554.66 229.01L555.08 227.64L555.50 229.89L555.92 224.81L556.34 229.70L556.76 227.23L557.18 225.44L557.60 225.24L558.02 227.81L558.44 227.23L558.86 226.38L559.28 228.75L559.70 227.35L560.12 225.17L560.54 228.74L560.96 227.88L561.38 227.68L561.80 227.70L562.22 227.81L562.64 226.97L563.06 228.06L563.48 225.57L563.90 227.42L564.32 225.21L564.74 227.08L565.16 226.27L565.58 227.42L566.00 226.68L566.42 227.31L566.84 226.98L567.26 227.70L567.68 229.08L568.10 227.80L568.52 228.33L568.94 225.93L569.36 228.49L569.78 228.17L570.20 226.50L570.62 226.24L571.04 227.10L571.46 226.75L571.88 228.29L572.30 227.77L572.72 226.60L573.14 224.90L573.56 226.75L573.98 225.24L574.40 226.92L574.82 227.31L575.24 227.51L575.66 227.77L576.08 226.53L576.50 226.72L576.92 224.81L577.34 227.24L577.76 227.22L578.18 225.71L578.20 224.37L578.60 225.87L579.02 224.94L579.44 225.61L579.86 227.85L580.28 226.07L580.70 225.69L581.12 227.52L581.54 226.83L581.96 225.53L582.38 226.94L582.80 227.69L583.22 226.51L583.64 228.56L584.06 226.89L584.48 225.62L584.90 227.29L585.32 226.02L585.74 227.79L586.16 226.22L586.58 226.70L587.00 226.26L587.42 227.06L587.84 227.68L588.26 227.31L588.68 226.17L589.10 228.65L589.52 227.99L589.94 225.45L590.36 228.28L590.78 226.51L591.20 227.31L591.62 227.38L592.04 228.30L592.46 226.97L592.88 226.99L593.30 228.00L593.72 228.55L594.14 226.44L594.56 227.16L594.98 227.46L595.40 226.75L595.82 227.74L596.24 227.97L596.66 227.94L597.08 229.69L597.50 227.59L597.92 228.73L598.34 228.61L598.76 230.07L599.18 231.00L599.60 228.13L600.02 228.42L600.44 227.68L600.86 228.26L601.28 227.93L601.70 227.80L602.12 227.34L602.54 227.47L602.96 226.01L603.38 229.48L603.80 227.45L604.22 226.88L604.64 229.42L605.06 228.12L605.48 230.22L605.90 226.93L606.32 228.19L606.74 227.24L607.16 228.43L607.58 227.34L608.00 228.26L608.42 228.07L608.84 228.24L609.26 230.57L609.68 228.77L610.10 229.70L610.52 228.06L610.94 229.50L611.36 227.77L611.78 227.99L612.20 229.73L612.62 228.56L613.04 226.35L613.46 228.34L613.88 227.98L614.30 229.39" stroke="#da3a3c"/>
</g>
<line x1="42.10" y1="29.60" x2="383.30" y2="29.60" stroke="#4a4a4a" stroke-width="1.50" stroke-linecap="square"/><line x1="42.10" y1="280.10" x2="383.30" y2="280.10" stroke="#383838" stroke-width="1.50" stroke-linecap="square"/><line x1="42.10" y1="29.60" x2="42.10" y2="280.10" stroke="#747474" stroke-width="1.50" stroke-linecap="square"/><line x1="383.30" y1="29.60" x2="383.30" y2="280.10" stroke="#454545" stroke-width="1.50" stroke-linecap="square"/><line x1="457.80" y1="29.50" x2="526.00" y2="29.50" stroke="#4a4a4a" stroke-width="1.50" stroke-linecap="square"/><line x1="457.80" y1="279.90" x2="526.00" y2="279.90" stroke="#383838" stroke-width="1.50" stroke-linecap="square"/><line x1="457.80" y1="29.50" x2="457.80" y2="279.90" stroke="#505050" stroke-width="1.50" stroke-linecap="square"/><line x1="526.00" y1="29.50" x2="526.00" y2="279.90" stroke="#666" stroke-width="1.50" stroke-linecap="square"/><line x1="546.40" y1="29.50" x2="614.90" y2="29.50" stroke="#4a4a4a" stroke-width="1.50" stroke-linecap="square"/><line x1="546.40" y1="279.90" x2="614.90" y2="279.90" stroke="#383838" stroke-width="1.50" stroke-linecap="square"/><line x1="546.40" y1="29.50" x2="546.40" y2="279.90" stroke="#707070" stroke-width="1.50" stroke-linecap="square"/><line x1="614.90" y1="29.50" x2="614.90" y2="279.90" stroke="#4c4c4c" stroke-width="1.50" stroke-linecap="square"/>
<g stroke="#333" stroke-width="1.2"><line x1="68.25" y1="275.80" x2="68.25" y2="279.8"/><line x1="94.50" y1="276.80" x2="94.50" y2="279.8"/><line x1="120.75" y1="275.80" x2="120.75" y2="279.8"/><line x1="147.00" y1="276.80" x2="147.00" y2="279.8"/><line x1="173.25" y1="275.80" x2="173.25" y2="279.8"/><line x1="199.50" y1="276.80" x2="199.50" y2="279.8"/><line x1="225.75" y1="275.80" x2="225.75" y2="279.8"/><line x1="252.00" y1="276.80" x2="252.00" y2="279.8"/><line x1="278.25" y1="275.80" x2="278.25" y2="279.8"/><line x1="304.50" y1="276.80" x2="304.50" y2="279.8"/><line x1="330.75" y1="275.80" x2="330.75" y2="279.8"/><line x1="357.00" y1="276.80" x2="357.00" y2="279.8"/><line x1="383.25" y1="275.80" x2="383.25" y2="279.8"/><line x1="471.60" y1="276.8" x2="471.60" y2="279.8"/><line x1="560.20" y1="276.8" x2="560.20" y2="279.8"/><line x1="485.20" y1="276.8" x2="485.20" y2="279.8"/><line x1="573.90" y1="276.8" x2="573.90" y2="279.8"/><line x1="498.80" y1="276.8" x2="498.80" y2="279.8"/><line x1="587.60" y1="276.8" x2="587.60" y2="279.8"/><line x1="512.40" y1="276.8" x2="512.40" y2="279.8"/><line x1="601.30" y1="276.8" x2="601.30" y2="279.8"/></g>
<g font-family="Liberation Sans, sans-serif" font-size="10" fill="#222" stroke="#222" stroke-width="0.15"><path d="M65.205 287.618L63.652 288.771L63.652 287.908L65.278 286.745L66.088 286.745L66.088 293.900L65.205 293.900Z"/><text x="68.25" y="294.4">0</text><text x="120.75" y="294.4" text-anchor="middle">20</text><text x="173.25" y="294.4" text-anchor="middle">30</text><text x="225.75" y="294.4" text-anchor="middle">40</text><text x="278.25" y="294.4" text-anchor="middle">50</text><text x="330.75" y="294.4" text-anchor="middle">60</text><text x="383.25" y="294.4" text-anchor="middle">70</text><text x="458.00" y="294.4" text-anchor="middle">40</text><text x="526.00" y="294.4" text-anchor="middle">45</text><text x="546.50" y="294.4" text-anchor="middle">60</text><text x="615.00" y="294.4" text-anchor="middle">65</text></g>
<polygon points="86.90,50.60 89.15,54.10 86.90,57.60 84.65,54.10" fill="#fff" stroke="#222" stroke-width="1"/>
<polygon points="105.10,44.00 107.35,47.50 105.10,51.00 102.85,47.50" fill="#fff" stroke="#222" stroke-width="1"/>
<polygon points="241.20,70.30 244.00,74.20 241.20,78.10 238.40,74.20" fill="#111"/>
<polygon points="343.30,74.60 346.10,78.50 343.30,82.40 340.50,78.50" fill="#111"/>
<polygon points="497.90,39.90 500.70,43.90 497.90,47.90 495.10,43.90" fill="#111"/>
<polygon points="578.20,47.60 580.90,51.50 578.20,55.40 575.50,51.50" fill="#111"/>
<rect x="257" y="38.8" width="39.5" height="30.5" fill="#fff" stroke="#666" stroke-width="1"/>
<polygon points="262.40,43.50 264.70,46.90 262.40,50.30 260.10,46.90" fill="#fff" stroke="#222" stroke-width="1"/>
<polygon points="263.00,58.60 265.70,62.10 263.00,65.60 260.30,62.10" fill="#111"/>
<g font-family="Liberation Serif, serif" font-size="10" fill="#262626" stroke="#262626" stroke-width="0.08"><text x="267" y="50.5">PHBV</text><text x="266.8" y="65.7">MgO</text></g>
<g font-family="Liberation Serif, serif" font-size="10.6" fill="#222" stroke="#222" stroke-width="0.12">
<text x="257.5" y="85.8">PHBV/7%nMgO</text>
<text x="257.5" y="130.8">PHBV/5%nMgO</text>
<text x="257.5" y="175.8">PHBV/3%nMgO</text>
<text x="257.5" y="221.3">PHBV/1%nMgO</text>
<text x="257.5" y="265.5">PHBV</text>
</g>
<text font-family="Liberation Serif, serif" font-size="13" fill="#1a1a1a" stroke="#1a1a1a" stroke-width="0.1" x="198" y="308.4">2θ (°)</text>
<text font-family="Liberation Serif, serif" font-size="12.4" fill="#262626" stroke="#262626" stroke-width="0.04" transform="translate(34.7 155.3) rotate(-90)" text-anchor="middle">Intensity</text>
<text font-family="Liberation Serif, serif" font-size="14.6" font-weight="bold" fill="#111" x="10.8" y="17.6">(A)</text>
<text font-family="Liberation Serif, serif" font-size="14.6" font-weight="bold" fill="#111" x="425.6" y="17.6">(B)</text>
</svg></body></html>
